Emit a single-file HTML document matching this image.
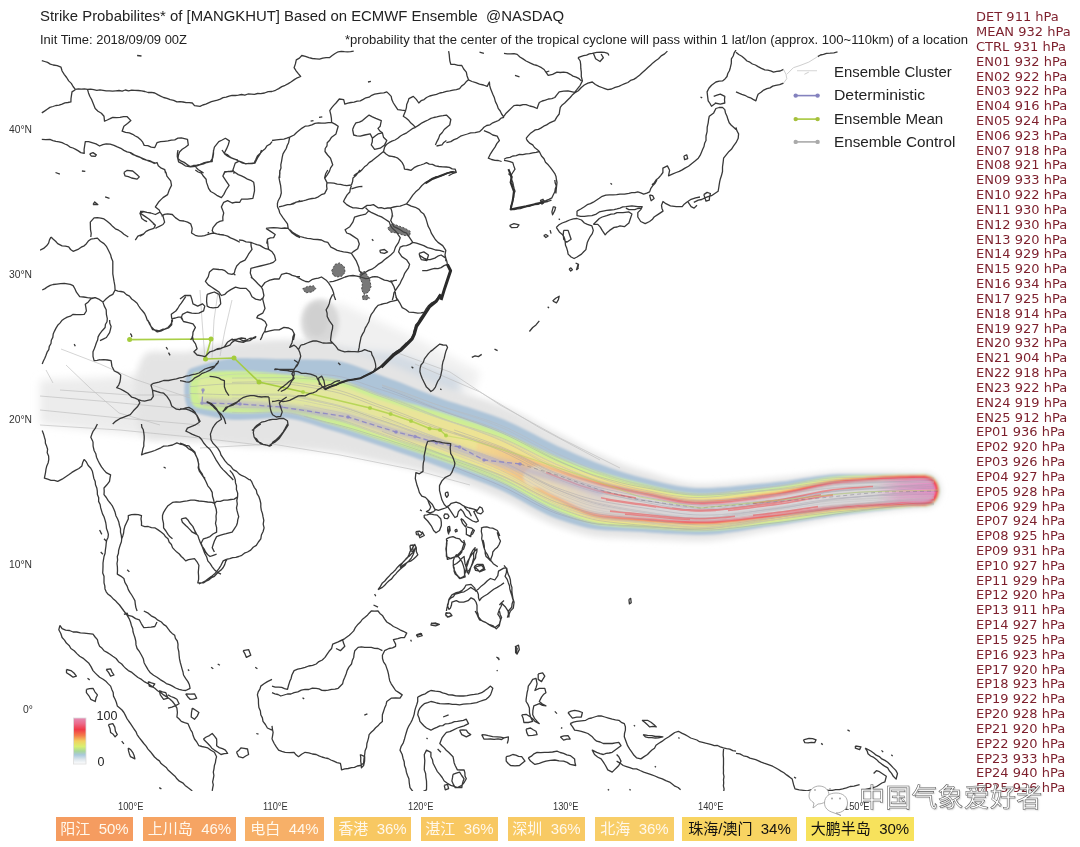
<!DOCTYPE html>
<html><head><meta charset="utf-8">
<style>
html,body{margin:0;padding:0;background:#fff;}
body{width:1080px;height:847px;position:relative;overflow:hidden;font-family:"Liberation Sans","Noto Sans CJK SC",sans-serif;}
.t{position:absolute;white-space:nowrap;line-height:1;}
#title{left:40px;top:9px;font-size:14.9px;color:#222;}
#init{left:40px;top:33.5px;font-size:12.5px;color:#222;transform:scaleX(1.037);transform-origin:0 0;}
#note{left:345px;top:33.5px;font-size:12.5px;color:#222;transform:scaleX(1.046);transform-origin:0 0;}
#press{position:absolute;left:976px;top:10.2px;font-family:"DejaVu Sans",sans-serif;font-size:12px;color:#7d1f2c;line-height:14.823px;white-space:pre;transform:scaleX(1.085);transform-origin:0 0;}
.lat{position:absolute;font-size:10px;color:#333;transform:scaleX(1.03);transform-origin:0 0;}
.lon{position:absolute;font-size:10px;color:#333;top:800.5px;transform:scaleX(0.93);transform-origin:0 0;}
.leg{position:absolute;left:834px;font-size:14px;color:#222;transform-origin:0 0;white-space:nowrap;}
.box{position:absolute;top:817.3px;height:24.2px;font-family:"Liberation Sans","Noto Sans CJK SC",sans-serif;font-size:15px;line-height:24px;color:#fff8ec;text-align:center;white-space:nowrap;}
svg{position:absolute;left:0;top:0;}
</style></head><body>
<svg id="map" width="1080" height="847" viewBox="0 0 1080 847">
<!--haze--><defs><filter id="b4" x="-50%" y="-50%" width="200%" height="200%"><feGaussianBlur stdDeviation="4"/></filter><filter id="b2" x="-20%" y="-50%" width="140%" height="200%"><feGaussianBlur stdDeviation="2"/></filter></defs><g filter="url(#b4)"><path d="M40,380 L100,378 L150,374 L200,366 L200,440 L150,436 L90,430 L40,424Z" fill="#ececec"/><path d="M305,305 L340,303 L420,340 L480,372 L474,392 L400,382 L330,366 L305,345Z" fill="#f0f0f0"/><path d="M205,352 L300,346 L400,354 L460,378 L460,398 L380,392 L280,385 L205,385Z" fill="#d2dae3"/></g><g filter="url(#b2)"><ellipse cx="320" cy="322" rx="19" ry="23" fill="#d8d8d8"/><ellipse cx="317" cy="320" rx="11" ry="16" fill="#d0d0d0"/></g><!--/haze-->
<!--band--><defs><filter id="bl" x="-5%" y="-20%" width="110%" height="140%"><feGaussianBlur stdDeviation="1.3"/></filter><filter id="bl2" x="-5%" y="-20%" width="110%" height="140%"><feGaussianBlur stdDeviation="3"/></filter><linearGradient id="yel" x1="190" y1="0" x2="940" y2="0" gradientUnits="userSpaceOnUse"><stop offset="0" stop-color="#dcec9e"/><stop offset="0.2" stop-color="#e4e6a0"/><stop offset="0.4" stop-color="#eee292"/><stop offset="1" stop-color="#efe08a"/></linearGradient><linearGradient id="rim" x1="480" y1="0" x2="940" y2="0" gradientUnits="userSpaceOnUse"><stop offset="0" stop-color="#f2d890"/><stop offset="0.15" stop-color="#f2b880"/><stop offset="0.3" stop-color="#ef7a6a"/><stop offset="0.45" stop-color="#ee5060"/><stop offset="1" stop-color="#f0384c"/></linearGradient><linearGradient id="core" x1="540" y1="0" x2="940" y2="0" gradientUnits="userSpaceOnUse"><stop offset="0" stop-color="#e8dab4"/><stop offset="0.15" stop-color="#ddd3cc"/><stop offset="0.3" stop-color="#d8d5d8"/><stop offset="0.84" stop-color="#d8d6d8"/><stop offset="0.9" stop-color="#e2a6cc"/><stop offset="1" stop-color="#ea88c6"/></linearGradient></defs><g filter="url(#bl)"><path d="M150.0,352.0 C153.3,351.0 158.0,352.0 162.0,352.0 C166.0,352.0 170.0,352.0 174.0,352.0 C178.0,352.0 182.0,352.3 186.0,352.0 C190.0,351.7 194.0,351.1 198.0,350.3 C202.0,349.5 206.0,348.1 210.0,347.1 C214.0,346.1 218.0,345.2 222.0,344.5 C226.0,343.7 230.0,343.1 234.0,342.6 C238.0,342.1 242.0,341.9 246.0,341.5 C250.0,341.2 254.0,341.0 258.0,340.7 C262.0,340.5 266.0,340.3 270.0,340.2 C274.0,340.1 278.0,340.0 282.0,340.0 C286.0,340.1 290.0,340.2 294.0,340.5 C298.0,340.8 302.0,341.2 306.0,341.6 C310.0,342.1 314.0,342.6 318.0,343.2 C322.0,343.8 326.0,344.3 330.0,345.0 C334.0,345.7 338.0,346.5 342.0,347.5 C346.0,348.5 350.0,349.7 354.0,351.0 C358.0,352.2 362.0,353.6 366.0,355.0 C370.0,356.4 374.0,357.9 378.0,359.3 C382.0,360.8 386.0,362.2 390.0,363.7 C394.0,365.3 398.0,367.1 402.0,368.8 C406.0,370.5 410.0,372.3 414.0,374.1 C418.0,375.9 422.0,377.7 426.0,379.4 C430.0,381.1 434.0,382.7 438.0,384.2 C442.0,385.8 446.0,387.2 450.0,388.5 C454.0,389.8 458.0,391.1 462.0,392.3 C466.0,393.6 470.0,394.8 474.0,396.0 C478.0,397.3 482.0,398.5 486.0,399.9 C490.0,401.2 494.0,402.6 498.0,404.2 C502.0,405.8 506.0,407.5 510.0,409.3 C514.0,411.1 518.0,413.1 522.0,415.1 C526.0,417.1 530.0,419.3 534.0,421.4 C538.0,423.5 542.0,425.6 546.0,427.7 C550.0,429.9 554.0,431.9 558.0,434.0 C562.0,436.1 566.0,438.1 570.0,440.1 C574.0,442.2 578.0,444.4 582.0,446.4 C586.0,448.4 590.0,450.5 594.0,452.3 C598.0,454.2 602.0,455.9 606.0,457.5 C610.0,459.2 614.0,460.9 618.0,462.4 C622.0,464.0 626.0,465.5 630.0,466.8 C634.0,468.2 638.0,469.3 642.0,470.6 C646.0,471.8 650.0,473.1 654.0,474.3 C658.0,475.6 662.0,476.9 666.0,478.0 C670.0,479.2 674.0,480.3 678.0,481.2 C682.0,482.1 686.0,482.9 690.0,483.4 C694.0,483.8 698.0,483.9 702.0,484.0 C706.0,484.0 710.0,483.8 714.0,483.7 C718.0,483.5 722.0,483.3 726.0,483.0 C730.0,482.7 734.0,482.4 738.0,482.1 C742.0,481.7 746.0,481.3 750.0,481.0 C754.0,480.6 758.0,480.2 762.0,479.9 C766.0,479.5 770.0,479.2 774.0,478.8 C778.0,478.4 782.0,478.0 786.0,477.6 C790.0,477.1 794.0,476.6 798.0,476.1 C802.0,475.6 806.0,475.0 810.0,474.5 C814.0,474.0 818.0,473.6 822.0,473.2 C826.0,472.8 830.0,472.5 834.0,472.3 C838.0,472.1 842.0,472.0 846.0,472.0 C850.0,472.0 854.0,472.0 858.0,472.0 C862.0,472.0 866.0,472.0 870.0,472.0 C874.0,472.1 878.0,472.1 882.0,472.1 C886.0,472.2 890.0,472.2 894.0,472.3 C898.0,472.4 902.0,472.5 906.0,472.6 C910.0,472.7 914.8,472.9 918.0,473.0 C921.2,473.1 922.7,472.6 925.2,473.0 C927.8,473.4 930.9,473.9 933.1,475.3 C935.4,476.8 937.6,479.2 938.9,481.8 C940.2,484.3 941.0,487.6 941.0,490.5 C941.0,493.4 940.2,496.7 938.9,499.2 C937.6,501.8 935.4,504.2 933.1,505.7 C930.9,507.1 927.8,507.6 925.2,508.0 C922.7,508.4 921.2,507.8 918.0,508.0 C914.8,508.2 910.0,508.7 906.0,509.1 C902.0,509.5 898.0,510.0 894.0,510.4 C890.0,510.9 886.0,511.3 882.0,511.8 C878.0,512.3 874.0,512.8 870.0,513.4 C866.0,513.9 862.0,514.4 858.0,515.0 C854.0,515.6 850.0,516.1 846.0,516.7 C842.0,517.3 838.0,517.9 834.0,518.6 C830.0,519.2 826.0,520.0 822.0,520.7 C818.0,521.4 814.0,522.2 810.0,522.9 C806.0,523.7 802.0,524.5 798.0,525.3 C794.0,526.0 790.0,526.8 786.0,527.5 C782.0,528.3 778.0,529.0 774.0,529.7 C770.0,530.4 766.0,531.0 762.0,531.8 C758.0,532.6 754.0,533.4 750.0,534.2 C746.0,535.0 742.0,535.9 738.0,536.6 C734.0,537.4 730.0,538.1 726.0,538.7 C722.0,539.3 718.0,539.9 714.0,540.3 C710.0,540.7 706.0,540.9 702.0,541.0 C698.0,541.1 694.0,541.0 690.0,540.9 C686.0,540.8 682.0,540.7 678.0,540.6 C674.0,540.5 670.0,540.3 666.0,540.1 C662.0,540.0 658.0,539.8 654.0,539.6 C650.0,539.4 646.0,539.2 642.0,539.1 C638.0,538.9 634.0,538.8 630.0,538.6 C626.0,538.5 622.0,538.3 618.0,538.1 C614.0,537.9 610.0,537.8 606.0,537.5 C602.0,537.1 598.0,536.9 594.0,536.3 C590.0,535.7 586.0,534.7 582.0,533.7 C578.0,532.7 574.0,531.5 570.0,530.2 C566.0,529.0 562.0,527.8 558.0,526.3 C554.0,524.9 550.0,523.2 546.0,521.4 C542.0,519.6 538.0,517.4 534.0,515.4 C530.0,513.3 526.0,511.0 522.0,508.9 C518.0,506.7 514.0,504.5 510.0,502.6 C506.0,500.6 502.0,498.9 498.0,497.2 C494.0,495.4 490.0,493.9 486.0,492.2 C482.0,490.6 478.0,489.1 474.0,487.5 C470.0,486.0 466.0,484.5 462.0,483.1 C458.0,481.7 454.0,480.3 450.0,479.0 C446.0,477.8 442.0,476.6 438.0,475.4 C434.0,474.3 430.0,473.3 426.0,472.3 C422.0,471.3 418.0,470.3 414.0,469.4 C410.0,468.5 406.0,467.6 402.0,466.7 C398.0,465.8 394.0,465.0 390.0,464.1 C386.0,463.3 382.0,462.4 378.0,461.6 C374.0,460.7 370.0,459.8 366.0,458.9 C362.0,458.0 358.0,457.0 354.0,456.2 C350.0,455.3 346.0,454.5 342.0,453.8 C338.0,453.1 334.0,452.5 330.0,452.0 C326.0,451.5 322.0,451.1 318.0,450.7 C314.0,450.4 310.0,450.0 306.0,449.7 C302.0,449.4 298.0,449.1 294.0,448.8 C290.0,448.6 286.0,448.3 282.0,448.1 C278.0,447.8 274.0,447.6 270.0,447.4 C266.0,447.3 262.0,447.1 258.0,446.9 C254.0,446.8 250.0,446.6 246.0,446.4 C242.0,446.1 238.0,445.9 234.0,445.5 C230.0,445.2 226.0,444.8 222.0,444.3 C218.0,443.9 214.0,443.3 210.0,442.8 C206.0,442.2 202.0,441.4 198.0,441.0 C194.0,440.5 190.0,440.2 186.0,440.0 C182.0,439.8 178.0,440.0 174.0,440.0 C170.0,440.0 166.0,440.0 162.0,440.0 C158.0,440.0 153.3,441.0 150.0,440.0 C146.7,439.0 144.5,437.8 142.3,434.1 C140.1,430.4 137.9,424.4 136.7,418.0 C135.4,411.6 134.6,403.3 134.6,396.0 C134.6,388.7 135.4,380.4 136.7,374.0 C137.9,367.6 140.1,361.6 142.3,357.9 C144.5,354.2 146.7,353.0 150.0,352.0Z" fill="#e4e4e4" filter="url(#bl2)"/><path d="M192.0,368.0 C194.6,366.9 200.0,365.4 204.0,364.2 C208.0,363.0 212.0,361.9 216.0,361.0 C220.0,360.1 224.0,359.3 228.0,358.8 C232.0,358.3 236.0,358.1 240.0,358.0 C244.0,357.9 248.0,358.1 252.0,358.2 C256.0,358.2 260.0,358.4 264.0,358.5 C268.0,358.6 272.0,358.8 276.0,358.9 C280.0,359.0 284.0,359.1 288.0,359.1 C292.0,359.2 296.0,359.3 300.0,359.3 C304.0,359.4 308.0,359.4 312.0,359.5 C316.0,359.6 320.0,359.6 324.0,359.8 C328.0,360.0 332.0,360.0 336.0,360.6 C340.0,361.1 344.0,362.2 348.0,363.3 C352.0,364.5 356.0,366.0 360.0,367.5 C364.0,369.0 368.0,370.6 372.0,372.1 C376.0,373.6 380.0,374.9 384.0,376.4 C388.0,377.8 392.0,379.3 396.0,380.8 C400.0,382.3 404.0,383.9 408.0,385.5 C412.0,387.1 416.0,388.8 420.0,390.4 C424.0,391.9 428.0,393.5 432.0,395.0 C436.0,396.6 440.0,398.0 444.0,399.4 C448.0,400.8 452.0,402.1 456.0,403.3 C460.0,404.6 464.0,405.8 468.0,407.1 C472.0,408.4 476.0,409.6 480.0,410.9 C484.0,412.2 488.0,413.5 492.0,415.0 C496.0,416.4 500.0,418.0 504.0,419.6 C508.0,421.3 512.0,423.2 516.0,425.1 C520.0,427.0 524.0,429.0 528.0,431.1 C532.0,433.1 536.0,435.2 540.0,437.2 C544.0,439.3 548.0,441.3 552.0,443.2 C556.0,445.2 560.0,447.0 564.0,448.8 C568.0,450.6 572.0,452.4 576.0,454.2 C580.0,455.9 584.0,457.7 588.0,459.3 C592.0,460.9 596.0,462.5 600.0,464.0 C604.0,465.5 608.0,467.0 612.0,468.4 C616.0,469.8 620.0,471.2 624.0,472.5 C628.0,473.7 632.0,474.9 636.0,476.0 C640.0,477.1 644.0,478.0 648.0,479.0 C652.0,480.0 656.0,481.0 660.0,482.0 C664.0,482.9 668.0,483.9 672.0,484.7 C676.0,485.5 680.0,486.3 684.0,486.8 C688.0,487.4 692.0,487.7 696.0,487.9 C700.0,488.1 704.0,488.0 708.0,487.9 C712.0,487.8 716.0,487.6 720.0,487.3 C724.0,487.1 728.0,486.8 732.0,486.4 C736.0,486.1 740.0,485.7 744.0,485.3 C748.0,484.9 752.0,484.5 756.0,484.1 C760.0,483.7 764.0,483.3 768.0,482.9 C772.0,482.5 776.0,482.1 780.0,481.6 C784.0,481.1 788.0,480.5 792.0,479.9 C796.0,479.3 800.0,478.7 804.0,478.0 C808.0,477.4 812.0,476.8 816.0,476.2 C820.0,475.7 824.0,475.2 828.0,474.8 C832.0,474.5 836.0,474.2 840.0,474.1 C844.0,473.9 848.0,474.0 852.0,474.0 C856.0,474.0 860.0,474.0 864.0,474.0 C868.0,474.0 872.0,474.0 876.0,474.0 C880.0,474.0 884.0,474.0 888.0,474.0 C892.0,474.0 896.0,474.0 900.0,474.0 C904.0,474.0 908.0,474.0 912.0,474.0 C916.0,474.0 921.8,474.0 924.0,474.0 C926.2,474.0 923.7,473.6 925.1,474.0 C926.6,474.4 930.4,474.8 932.6,476.2 C934.7,477.6 936.8,479.9 938.0,482.2 C939.2,484.6 940.0,487.8 940.0,490.5 C940.0,493.2 939.2,496.4 938.0,498.8 C936.8,501.1 934.7,503.4 932.6,504.8 C930.4,506.2 926.6,506.6 925.1,507.0 C923.7,507.4 926.2,506.9 924.0,507.0 C921.8,507.1 916.0,507.2 912.0,507.4 C908.0,507.7 904.0,508.2 900.0,508.6 C896.0,509.0 892.0,509.4 888.0,509.8 C884.0,510.2 880.0,510.7 876.0,511.1 C872.0,511.6 868.0,512.1 864.0,512.5 C860.0,513.0 856.0,513.5 852.0,514.0 C848.0,514.5 844.0,515.0 840.0,515.5 C836.0,516.1 832.0,516.6 828.0,517.2 C824.0,517.8 820.0,518.5 816.0,519.1 C812.0,519.8 808.0,520.4 804.0,521.1 C800.0,521.7 796.0,522.4 792.0,523.0 C788.0,523.6 784.0,524.3 780.0,524.9 C776.0,525.4 772.0,526.0 768.0,526.6 C764.0,527.2 760.0,527.8 756.0,528.5 C752.0,529.1 748.0,529.8 744.0,530.5 C740.0,531.1 736.0,531.8 732.0,532.3 C728.0,532.9 724.0,533.4 720.0,533.9 C716.0,534.3 712.0,534.6 708.0,534.8 C704.0,535.0 700.0,535.0 696.0,535.0 C692.0,534.9 688.0,534.8 684.0,534.6 C680.0,534.5 676.0,534.2 672.0,534.0 C668.0,533.8 664.0,533.5 660.0,533.2 C656.0,533.0 652.0,532.7 648.0,532.4 C644.0,532.2 640.0,532.0 636.0,531.8 C632.0,531.6 628.0,531.5 624.0,531.3 C620.0,531.2 616.0,531.0 612.0,530.8 C608.0,530.6 604.0,530.4 600.0,530.0 C596.0,529.6 592.0,529.0 588.0,528.2 C584.0,527.4 580.0,526.2 576.0,525.1 C572.0,523.9 568.0,522.7 564.0,521.3 C560.0,520.0 556.0,518.7 552.0,517.0 C548.0,515.3 544.0,513.3 540.0,511.3 C536.0,509.2 532.0,506.9 528.0,504.7 C524.0,502.5 520.0,500.1 516.0,498.0 C512.0,495.8 508.0,493.7 504.0,491.8 C500.0,489.9 496.0,488.3 492.0,486.6 C488.0,484.9 484.0,483.4 480.0,481.8 C476.0,480.2 472.0,478.7 468.0,477.2 C464.0,475.7 460.0,474.3 456.0,472.8 C452.0,471.4 448.0,469.9 444.0,468.5 C440.0,467.0 436.0,465.5 432.0,464.1 C428.0,462.6 424.0,461.2 420.0,459.8 C416.0,458.4 412.0,457.0 408.0,455.6 C404.0,454.2 400.0,452.8 396.0,451.4 C392.0,450.0 388.0,448.7 384.0,447.3 C380.0,446.0 376.0,444.7 372.0,443.3 C368.0,442.0 364.0,440.6 360.0,439.3 C356.0,438.0 352.0,436.7 348.0,435.4 C344.0,434.1 340.0,432.9 336.0,431.7 C332.0,430.5 328.0,429.5 324.0,428.2 C320.0,427.0 316.0,425.6 312.0,424.3 C308.0,423.1 304.0,421.7 300.0,420.8 C296.0,419.8 292.0,418.9 288.0,418.4 C284.0,418.0 280.0,418.0 276.0,418.1 C272.0,418.1 268.0,418.5 264.0,418.7 C260.0,419.0 256.0,419.4 252.0,419.6 C248.0,419.8 244.0,420.0 240.0,420.0 C236.0,420.0 232.0,419.8 228.0,419.4 C224.0,419.0 220.0,418.4 216.0,417.7 C212.0,417.0 208.0,416.1 204.0,415.2 C200.0,414.2 194.6,413.0 192.0,412.0 C189.4,411.0 189.3,410.9 188.2,409.1 C187.0,407.2 186.0,404.2 185.3,401.0 C184.7,397.8 184.3,393.7 184.3,390.0 C184.3,386.3 184.7,382.2 185.3,379.0 C186.0,375.8 187.0,372.8 188.2,370.9 C189.3,369.1 189.4,369.1 192.0,368.0Z" fill="#adc4d8"/><path d="M196.0,372.6 C198.5,372.1 204.0,372.0 208.0,371.7 C212.0,371.5 216.0,371.4 220.0,371.2 C224.0,371.1 228.0,371.1 232.0,371.0 C236.0,371.0 240.0,370.9 244.0,371.1 C248.0,371.2 252.0,371.4 256.0,371.7 C260.0,372.0 264.0,372.5 268.0,372.8 C272.0,373.2 276.0,373.6 280.0,373.9 C284.0,374.2 288.0,374.5 292.0,374.8 C296.0,375.0 300.0,375.3 304.0,375.6 C308.0,375.8 312.0,376.1 316.0,376.5 C320.0,376.9 324.0,377.1 328.0,377.7 C332.0,378.3 336.0,379.0 340.0,380.1 C344.0,381.2 348.0,382.7 352.0,384.2 C356.0,385.7 360.0,387.5 364.0,389.1 C368.0,390.6 372.0,392.3 376.0,393.7 C380.0,395.1 384.0,396.2 388.0,397.4 C392.0,398.6 396.0,399.7 400.0,400.8 C404.0,401.9 408.0,403.0 412.0,404.1 C416.0,405.2 420.0,406.2 424.0,407.4 C428.0,408.5 432.0,409.6 436.0,410.8 C440.0,412.0 444.0,413.2 448.0,414.5 C452.0,415.7 456.0,417.0 460.0,418.2 C464.0,419.5 468.0,420.8 472.0,422.1 C476.0,423.5 480.0,424.8 484.0,426.2 C488.0,427.6 492.0,429.0 496.0,430.5 C500.0,432.0 504.0,433.5 508.0,435.2 C512.0,436.8 516.0,438.6 520.0,440.4 C524.0,442.2 528.0,444.0 532.0,445.9 C536.0,447.7 540.0,449.5 544.0,451.3 C548.0,453.1 552.0,454.8 556.0,456.4 C560.0,458.0 564.0,459.5 568.0,461.0 C572.0,462.5 576.0,464.0 580.0,465.4 C584.0,466.8 588.0,468.2 592.0,469.5 C596.0,470.8 600.0,472.0 604.0,473.2 C608.0,474.4 612.0,475.6 616.0,476.8 C620.0,477.9 624.0,479.1 628.0,480.1 C632.0,481.1 636.0,482.0 640.0,483.0 C644.0,484.0 648.0,484.9 652.0,485.9 C656.0,486.8 660.0,487.9 664.0,488.8 C668.0,489.7 672.0,490.7 676.0,491.4 C680.0,492.2 684.0,492.9 688.0,493.3 C692.0,493.7 696.0,493.9 700.0,494.0 C704.0,494.1 708.0,493.9 712.0,493.7 C716.0,493.5 720.0,493.3 724.0,492.9 C728.0,492.6 732.0,492.2 736.0,491.8 C740.0,491.4 744.0,490.9 748.0,490.4 C752.0,489.9 756.0,489.4 760.0,488.9 C764.0,488.5 768.0,488.0 772.0,487.5 C776.0,487.0 780.0,486.4 784.0,485.7 C788.0,485.1 792.0,484.3 796.0,483.5 C800.0,482.7 804.0,481.8 808.0,481.0 C812.0,480.3 816.0,479.4 820.0,478.8 C824.0,478.1 828.0,477.4 832.0,477.0 C836.0,476.5 840.0,476.2 844.0,476.0 C848.0,475.8 852.0,475.7 856.0,475.6 C860.0,475.5 864.0,475.3 868.0,475.2 C872.0,475.1 876.0,475.0 880.0,474.9 C884.0,474.8 888.0,474.8 892.0,474.7 C896.0,474.6 900.0,474.6 904.0,474.6 C908.0,474.5 912.5,474.5 916.0,474.5 C919.5,474.5 922.4,474.1 925.1,474.5 C927.8,474.9 930.2,475.3 932.3,476.6 C934.4,478.0 936.4,480.2 937.6,482.5 C938.8,484.8 939.5,487.8 939.5,490.5 C939.5,493.2 938.8,496.2 937.6,498.5 C936.4,500.8 934.4,503.0 932.3,504.4 C930.2,505.7 927.8,506.1 925.1,506.5 C922.4,506.9 919.5,506.4 916.0,506.6 C912.5,506.7 908.0,507.1 904.0,507.4 C900.0,507.7 896.0,508.0 892.0,508.3 C888.0,508.6 884.0,509.0 880.0,509.3 C876.0,509.7 872.0,510.1 868.0,510.5 C864.0,510.9 860.0,511.3 856.0,511.7 C852.0,512.1 848.0,512.5 844.0,513.0 C840.0,513.5 836.0,514.0 832.0,514.5 C828.0,515.0 824.0,515.6 820.0,516.3 C816.0,516.9 812.0,517.5 808.0,518.2 C804.0,518.8 800.0,519.4 796.0,520.1 C792.0,520.7 788.0,521.3 784.0,521.9 C780.0,522.5 776.0,523.0 772.0,523.5 C768.0,524.0 764.0,524.5 760.0,525.1 C756.0,525.6 752.0,526.2 748.0,526.7 C744.0,527.3 740.0,527.8 736.0,528.3 C732.0,528.8 728.0,529.3 724.0,529.7 C720.0,530.1 716.0,530.4 712.0,530.6 C708.0,530.9 704.0,531.0 700.0,531.0 C696.0,531.0 692.0,530.9 688.0,530.8 C684.0,530.7 680.0,530.5 676.0,530.3 C672.0,530.1 668.0,529.8 664.0,529.6 C660.0,529.3 656.0,529.0 652.0,528.8 C648.0,528.5 644.0,528.2 640.0,528.0 C636.0,527.8 632.0,527.5 628.0,527.3 C624.0,527.1 620.0,526.8 616.0,526.5 C612.0,526.2 608.0,526.0 604.0,525.5 C600.0,525.0 596.0,524.5 592.0,523.5 C588.0,522.6 584.0,521.2 580.0,519.8 C576.0,518.4 572.0,516.8 568.0,515.2 C564.0,513.6 560.0,512.1 556.0,510.4 C552.0,508.6 548.0,506.7 544.0,504.7 C540.0,502.7 536.0,500.5 532.0,498.4 C528.0,496.2 524.0,493.9 520.0,491.8 C516.0,489.7 512.0,487.6 508.0,485.6 C504.0,483.7 500.0,482.0 496.0,480.3 C492.0,478.7 488.0,477.1 484.0,475.6 C480.0,474.1 476.0,472.6 472.0,471.2 C468.0,469.7 464.0,468.3 460.0,466.9 C456.0,465.5 452.0,464.2 448.0,462.8 C444.0,461.4 440.0,460.0 436.0,458.6 C432.0,457.2 428.0,455.9 424.0,454.5 C420.0,453.2 416.0,451.8 412.0,450.5 C408.0,449.2 404.0,447.8 400.0,446.5 C396.0,445.2 392.0,443.9 388.0,442.6 C384.0,441.3 380.0,440.0 376.0,438.7 C372.0,437.4 368.0,436.0 364.0,434.7 C360.0,433.4 356.0,432.0 352.0,430.7 C348.0,429.4 344.0,428.1 340.0,426.9 C336.0,425.7 332.0,424.6 328.0,423.4 C324.0,422.2 320.0,420.9 316.0,419.6 C312.0,418.4 308.0,417.0 304.0,415.9 C300.0,414.8 296.0,413.7 292.0,413.0 C288.0,412.4 284.0,412.1 280.0,412.0 C276.0,411.9 272.0,412.1 268.0,412.2 C264.0,412.3 260.0,412.5 256.0,412.7 C252.0,412.8 248.0,413.0 244.0,413.0 C240.0,413.0 236.0,413.0 232.0,412.7 C228.0,412.5 224.0,412.1 220.0,411.5 C216.0,411.0 212.0,410.3 208.0,409.5 C204.0,408.7 198.5,407.7 196.0,406.9 C193.5,406.1 193.9,406.1 193.0,404.6 C192.1,403.2 191.3,400.8 190.8,398.4 C190.3,395.9 190.0,392.6 190.0,389.8 C190.0,386.9 190.3,383.7 190.8,381.2 C191.3,378.7 192.1,376.3 193.0,374.9 C193.9,373.5 193.5,373.1 196.0,372.6Z" fill="#cdee94"/><path d="M202.0,378.5 C204.3,378.2 210.0,378.2 214.0,378.2 C218.0,378.1 222.0,378.1 226.0,378.0 C230.0,378.0 234.0,378.0 238.0,378.0 C242.0,378.1 246.0,378.1 250.0,378.3 C254.0,378.5 258.0,378.9 262.0,379.3 C266.0,379.7 270.0,380.1 274.0,380.4 C278.0,380.8 282.0,381.1 286.0,381.3 C290.0,381.6 294.0,381.7 298.0,381.9 C302.0,382.1 306.0,382.3 310.0,382.5 C314.0,382.7 318.0,382.9 322.0,383.3 C326.0,383.6 330.0,383.8 334.0,384.5 C338.0,385.3 342.0,386.3 346.0,387.5 C350.0,388.8 354.0,390.4 358.0,391.9 C362.0,393.3 366.0,395.1 370.0,396.5 C374.0,398.0 378.0,399.3 382.0,400.6 C386.0,401.9 390.0,403.0 394.0,404.2 C398.0,405.4 402.0,406.6 406.0,407.8 C410.0,409.0 414.0,410.1 418.0,411.3 C422.0,412.5 426.0,413.7 430.0,414.9 C434.0,416.1 438.0,417.4 442.0,418.6 C446.0,419.9 450.0,421.1 454.0,422.4 C458.0,423.7 462.0,424.9 466.0,426.2 C470.0,427.5 474.0,428.8 478.0,430.2 C482.0,431.5 486.0,432.9 490.0,434.3 C494.0,435.8 498.0,437.2 502.0,438.8 C506.0,440.3 510.0,442.0 514.0,443.8 C518.0,445.5 522.0,447.4 526.0,449.2 C530.0,451.0 534.0,453.0 538.0,454.8 C542.0,456.6 546.0,458.4 550.0,460.0 C554.0,461.7 558.0,463.2 562.0,464.7 C566.0,466.2 570.0,467.6 574.0,468.9 C578.0,470.3 582.0,471.6 586.0,472.8 C590.0,474.1 594.0,475.3 598.0,476.4 C602.0,477.6 606.0,478.7 610.0,479.8 C614.0,480.9 618.0,481.9 622.0,482.9 C626.0,483.9 630.0,484.8 634.0,485.7 C638.0,486.6 642.0,487.4 646.0,488.3 C650.0,489.1 654.0,490.1 658.0,490.9 C662.0,491.8 666.0,492.7 670.0,493.5 C674.0,494.3 678.0,495.1 682.0,495.6 C686.0,496.2 690.0,496.6 694.0,496.8 C698.0,497.0 702.0,497.0 706.0,496.9 C710.0,496.9 714.0,496.6 718.0,496.4 C722.0,496.1 726.0,495.8 730.0,495.4 C734.0,495.0 738.0,494.6 742.0,494.2 C746.0,493.7 750.0,493.2 754.0,492.7 C758.0,492.2 762.0,491.7 766.0,491.2 C770.0,490.7 774.0,490.3 778.0,489.7 C782.0,489.1 786.0,488.3 790.0,487.6 C794.0,486.8 798.0,485.9 802.0,485.1 C806.0,484.2 810.0,483.3 814.0,482.5 C818.0,481.7 822.0,480.9 826.0,480.2 C830.0,479.6 834.0,479.0 838.0,478.5 C842.0,478.1 846.0,477.9 850.0,477.6 C854.0,477.3 858.0,477.1 862.0,476.9 C866.0,476.6 870.0,476.4 874.0,476.2 C878.0,476.0 882.0,475.8 886.0,475.7 C890.0,475.5 894.0,475.4 898.0,475.3 C902.0,475.2 906.0,475.1 910.0,475.0 C914.0,475.0 919.5,475.0 922.0,475.0 C924.5,475.0 923.4,474.7 925.0,475.0 C926.7,475.3 930.0,475.8 932.0,477.1 C934.0,478.4 936.0,480.5 937.1,482.8 C938.3,485.0 939.0,487.9 939.0,490.5 C939.0,493.1 938.3,496.0 937.1,498.2 C936.0,500.5 934.0,502.6 932.0,503.9 C930.0,505.2 926.7,505.7 925.0,506.0 C923.4,506.3 924.5,506.0 922.0,506.0 C919.5,506.0 914.0,506.1 910.0,506.3 C906.0,506.4 902.0,506.6 898.0,506.8 C894.0,507.1 890.0,507.3 886.0,507.6 C882.0,507.8 878.0,508.1 874.0,508.4 C870.0,508.7 866.0,509.1 862.0,509.4 C858.0,509.7 854.0,510.1 850.0,510.5 C846.0,510.8 842.0,511.2 838.0,511.6 C834.0,512.0 830.0,512.5 826.0,513.1 C822.0,513.6 818.0,514.2 814.0,514.8 C810.0,515.4 806.0,516.0 802.0,516.6 C798.0,517.3 794.0,517.9 790.0,518.5 C786.0,519.1 782.0,519.7 778.0,520.2 C774.0,520.8 770.0,521.2 766.0,521.8 C762.0,522.3 758.0,522.9 754.0,523.5 C750.0,524.1 746.0,524.7 742.0,525.3 C738.0,525.8 734.0,526.4 730.0,526.9 C726.0,527.4 722.0,527.8 718.0,528.2 C714.0,528.5 710.0,528.8 706.0,528.9 C702.0,529.0 698.0,529.0 694.0,528.9 C690.0,528.8 686.0,528.6 682.0,528.4 C678.0,528.2 674.0,527.9 670.0,527.5 C666.0,527.2 662.0,526.8 658.0,526.5 C654.0,526.1 650.0,525.8 646.0,525.5 C642.0,525.1 638.0,524.9 634.0,524.6 C630.0,524.3 626.0,524.2 622.0,523.9 C618.0,523.6 614.0,523.4 610.0,523.0 C606.0,522.7 602.0,522.5 598.0,521.7 C594.0,520.9 590.0,519.8 586.0,518.4 C582.0,517.0 578.0,515.1 574.0,513.4 C570.0,511.6 566.0,509.7 562.0,507.9 C558.0,506.0 554.0,504.3 550.0,502.3 C546.0,500.4 542.0,498.2 538.0,496.1 C534.0,493.9 530.0,491.6 526.0,489.4 C522.0,487.2 518.0,485.0 514.0,482.9 C510.0,480.8 506.0,478.8 502.0,476.9 C498.0,475.0 494.0,473.3 490.0,471.6 C486.0,469.8 482.0,468.1 478.0,466.4 C474.0,464.7 470.0,463.1 466.0,461.5 C462.0,459.9 458.0,458.4 454.0,456.9 C450.0,455.4 446.0,454.0 442.0,452.7 C438.0,451.3 434.0,450.1 430.0,448.9 C426.0,447.7 422.0,446.6 418.0,445.6 C414.0,444.5 410.0,443.5 406.0,442.4 C402.0,441.4 398.0,440.3 394.0,439.2 C390.0,438.1 386.0,436.9 382.0,435.6 C378.0,434.3 374.0,432.9 370.0,431.4 C366.0,429.9 362.0,428.1 358.0,426.5 C354.0,424.8 350.0,423.1 346.0,421.5 C342.0,420.0 338.0,418.5 334.0,417.2 C330.0,415.9 326.0,414.8 322.0,413.6 C318.0,412.4 314.0,411.1 310.0,410.0 C306.0,408.9 302.0,407.8 298.0,407.0 C294.0,406.2 290.0,405.5 286.0,405.2 C282.0,404.9 278.0,405.0 274.0,405.1 C270.0,405.1 266.0,405.3 262.0,405.4 C258.0,405.6 254.0,405.8 250.0,405.9 C246.0,405.9 242.0,406.1 238.0,406.0 C234.0,405.9 230.0,405.7 226.0,405.4 C222.0,405.0 218.0,404.5 214.0,404.0 C210.0,403.4 204.3,402.6 202.0,402.0 C199.7,401.4 200.5,401.4 199.9,400.4 C199.4,399.4 198.8,397.8 198.4,396.1 C198.1,394.4 197.9,392.2 197.9,390.2 C197.9,388.3 198.1,386.1 198.4,384.4 C198.8,382.7 199.4,381.0 199.9,380.1 C200.5,379.1 199.7,378.8 202.0,378.5Z" fill="url(#yel)"/><path d="M480.0,440.3 C482.3,440.7 488.0,442.9 492.0,444.3 C496.0,445.6 500.0,447.0 504.0,448.4 C508.0,449.9 512.0,451.4 516.0,453.0 C520.0,454.5 524.0,456.2 528.0,457.8 C532.0,459.4 536.0,461.0 540.0,462.6 C544.0,464.2 548.0,465.7 552.0,467.2 C556.0,468.6 560.0,470.0 564.0,471.3 C568.0,472.7 572.0,473.9 576.0,475.2 C580.0,476.4 584.0,477.6 588.0,478.7 C592.0,479.9 596.0,481.0 600.0,482.0 C604.0,483.0 608.0,484.0 612.0,485.0 C616.0,485.9 620.0,486.8 624.0,487.7 C628.0,488.6 632.0,489.4 636.0,490.2 C640.0,491.0 644.0,491.8 648.0,492.6 C652.0,493.5 656.0,494.4 660.0,495.3 C664.0,496.2 668.0,497.1 672.0,497.8 C676.0,498.6 680.0,499.3 684.0,499.9 C688.0,500.4 692.0,500.8 696.0,500.9 C700.0,501.1 704.0,501.0 708.0,500.8 C712.0,500.7 716.0,500.4 720.0,500.1 C724.0,499.8 728.0,499.4 732.0,498.9 C736.0,498.5 740.0,498.0 744.0,497.4 C748.0,496.9 752.0,496.3 756.0,495.8 C760.0,495.2 764.0,494.6 768.0,494.1 C772.0,493.5 776.0,492.9 780.0,492.2 C784.0,491.5 788.0,490.7 792.0,489.8 C796.0,488.9 800.0,487.9 804.0,487.0 C808.0,486.1 812.0,485.1 816.0,484.2 C820.0,483.3 824.0,482.4 828.0,481.7 C832.0,481.0 836.0,480.4 840.0,479.9 C844.0,479.4 848.0,479.2 852.0,478.8 C856.0,478.5 860.0,478.2 864.0,477.9 C868.0,477.6 872.0,477.3 876.0,477.0 C880.0,476.7 884.0,476.5 888.0,476.3 C892.0,476.1 896.0,475.9 900.0,475.8 C904.0,475.7 908.0,475.6 912.0,475.5 C916.0,475.5 921.8,475.5 924.0,475.5 C926.2,475.5 923.7,475.2 925.0,475.5 C926.3,475.8 929.8,476.3 931.8,477.5 C933.7,478.8 935.6,480.8 936.7,483.0 C937.8,485.2 938.5,488.0 938.5,490.5 C938.5,493.0 937.8,495.8 936.7,498.0 C935.6,500.2 933.7,502.2 931.8,503.5 C929.8,504.7 926.3,505.2 925.0,505.5 C923.7,505.8 926.2,505.5 924.0,505.5 C921.8,505.5 916.0,505.5 912.0,505.6 C908.0,505.6 904.0,505.8 900.0,505.9 C896.0,506.0 892.0,506.2 888.0,506.4 C884.0,506.6 880.0,506.8 876.0,507.0 C872.0,507.2 868.0,507.4 864.0,507.7 C860.0,507.9 856.0,508.2 852.0,508.5 C848.0,508.7 844.0,509.0 840.0,509.3 C836.0,509.6 832.0,510.0 828.0,510.5 C824.0,510.9 820.0,511.4 816.0,511.9 C812.0,512.4 808.0,512.9 804.0,513.5 C800.0,514.0 796.0,514.6 792.0,515.1 C788.0,515.6 784.0,516.1 780.0,516.6 C776.0,517.1 772.0,517.5 768.0,517.9 C764.0,518.4 760.0,518.8 756.0,519.3 C752.0,519.8 748.0,520.3 744.0,520.8 C740.0,521.2 736.0,521.7 732.0,522.1 C728.0,522.5 724.0,522.9 720.0,523.2 C716.0,523.5 712.0,523.7 708.0,523.9 C704.0,524.0 700.0,524.0 696.0,524.0 C692.0,523.9 688.0,523.8 684.0,523.7 C680.0,523.5 676.0,523.3 672.0,523.1 C668.0,522.8 664.0,522.6 660.0,522.3 C656.0,522.1 652.0,521.8 648.0,521.5 C644.0,521.3 640.0,521.0 636.0,520.8 C632.0,520.5 628.0,520.3 624.0,520.1 C620.0,519.8 616.0,519.6 612.0,519.2 C608.0,518.9 604.0,518.7 600.0,518.0 C596.0,517.3 592.0,516.3 588.0,514.9 C584.0,513.6 580.0,511.6 576.0,509.8 C572.0,507.9 568.0,505.8 564.0,503.9 C560.0,501.9 556.0,500.2 552.0,498.2 C548.0,496.1 544.0,494.0 540.0,491.8 C536.0,489.6 532.0,487.2 528.0,485.0 C524.0,482.7 520.0,480.4 516.0,478.2 C512.0,476.0 508.0,473.9 504.0,471.9 C500.0,469.9 496.0,468.1 492.0,466.3 C488.0,464.5 482.3,462.1 480.0,461.0 C477.7,459.8 478.7,460.4 478.2,459.6 C477.7,458.7 477.2,457.3 476.9,455.8 C476.6,454.3 476.4,452.3 476.4,450.6 C476.4,448.9 476.6,446.9 476.9,445.4 C477.2,443.9 477.7,442.5 478.2,441.6 C478.7,440.8 477.7,439.8 480.0,440.3Z" fill="url(#rim)"/><path d="M540.0,466.0 C543.4,466.5 548.0,469.1 552.0,470.6 C556.0,472.0 560.0,473.4 564.0,474.7 C568.0,476.1 572.0,477.3 576.0,478.6 C580.0,479.8 584.0,481.0 588.0,482.1 C592.0,483.3 596.0,484.4 600.0,485.4 C604.0,486.4 608.0,487.4 612.0,488.4 C616.0,489.3 620.0,490.2 624.0,491.1 C628.0,492.0 632.0,492.8 636.0,493.6 C640.0,494.4 644.0,495.2 648.0,496.0 C652.0,496.9 656.0,497.8 660.0,498.7 C664.0,499.6 668.0,500.5 672.0,501.2 C676.0,502.0 680.0,502.7 684.0,503.3 C688.0,503.8 692.0,504.2 696.0,504.3 C700.0,504.5 704.0,504.4 708.0,504.2 C712.0,504.1 716.0,503.8 720.0,503.5 C724.0,503.2 728.0,502.8 732.0,502.3 C736.0,501.9 740.0,501.4 744.0,500.8 C748.0,500.3 752.0,499.7 756.0,499.2 C760.0,498.6 764.0,498.0 768.0,497.5 C772.0,496.9 776.0,496.3 780.0,495.6 C784.0,494.9 788.0,494.1 792.0,493.2 C796.0,492.3 800.0,491.3 804.0,490.4 C808.0,489.5 812.0,488.5 816.0,487.6 C820.0,486.7 824.0,485.8 828.0,485.1 C832.0,484.4 836.0,483.8 840.0,483.3 C844.0,482.8 848.0,482.6 852.0,482.2 C856.0,481.9 860.0,481.6 864.0,481.3 C868.0,481.0 872.0,480.7 876.0,480.4 C880.0,480.1 884.0,479.9 888.0,479.7 C892.0,479.5 896.0,479.3 900.0,479.2 C904.0,479.1 908.0,479.0 912.0,478.9 C916.0,478.9 920.9,478.6 923.9,478.9 C926.9,479.2 928.0,479.5 929.7,480.5 C931.4,481.4 933.0,483.0 933.9,484.7 C934.9,486.4 935.5,488.6 935.5,490.5 C935.5,492.4 934.9,494.6 933.9,496.3 C933.0,498.0 931.4,499.6 929.7,500.5 C928.0,501.5 926.9,501.8 923.9,502.1 C920.9,502.4 916.0,502.1 912.0,502.2 C908.0,502.2 904.0,502.4 900.0,502.5 C896.0,502.6 892.0,502.8 888.0,503.0 C884.0,503.2 880.0,503.4 876.0,503.6 C872.0,503.8 868.0,504.0 864.0,504.3 C860.0,504.5 856.0,504.8 852.0,505.1 C848.0,505.3 844.0,505.6 840.0,505.9 C836.0,506.2 832.0,506.6 828.0,507.1 C824.0,507.5 820.0,508.0 816.0,508.5 C812.0,509.0 808.0,509.5 804.0,510.1 C800.0,510.6 796.0,511.2 792.0,511.7 C788.0,512.2 784.0,512.7 780.0,513.2 C776.0,513.7 772.0,514.1 768.0,514.5 C764.0,515.0 760.0,515.4 756.0,515.9 C752.0,516.4 748.0,516.9 744.0,517.4 C740.0,517.8 736.0,518.3 732.0,518.7 C728.0,519.1 724.0,519.5 720.0,519.8 C716.0,520.1 712.0,520.3 708.0,520.5 C704.0,520.6 700.0,520.6 696.0,520.6 C692.0,520.5 688.0,520.4 684.0,520.3 C680.0,520.1 676.0,519.9 672.0,519.7 C668.0,519.4 664.0,519.2 660.0,518.9 C656.0,518.7 652.0,518.4 648.0,518.1 C644.0,517.9 640.0,517.6 636.0,517.4 C632.0,517.1 628.0,516.9 624.0,516.7 C620.0,516.4 616.0,516.2 612.0,515.8 C608.0,515.5 604.0,515.3 600.0,514.6 C596.0,513.9 592.0,512.9 588.0,511.5 C584.0,510.2 580.0,508.2 576.0,506.4 C572.0,504.5 568.0,502.4 564.0,500.5 C560.0,498.5 556.0,496.8 552.0,494.8 C548.0,492.7 543.4,489.7 540.0,488.4 C536.6,487.0 534.0,487.8 531.6,486.9 C529.2,485.9 526.9,484.4 525.5,482.8 C524.1,481.2 523.2,479.0 523.2,477.2 C523.2,475.3 524.1,473.2 525.5,471.6 C526.9,470.0 529.2,468.4 531.6,467.5 C534.0,466.6 536.6,465.5 540.0,466.0Z" fill="url(#core)"/></g><!--/band-->
<!--tracks--><g fill="none" stroke="#bdbdbd" stroke-width="0.8" opacity="0.8"><polyline points="61.0,349.0 100.0,364.0 134.0,379.0 190.0,398.0"/><polyline points="66.0,365.0 90.0,388.0 119.0,413.0 160.0,425.0"/><polyline points="40.0,396.0 100.0,401.0 153.0,406.0 200.0,410.0"/><polyline points="40.0,410.0 120.0,418.0 200.0,425.0"/><polyline points="40.0,425.0 120.0,430.0 200.0,438.0 260.0,445.0"/><polyline points="46.0,370.0 53.0,383.0"/><polyline points="200.0,448.0 272.0,444.0 340.0,455.0 415.0,470.0 470.0,485.0"/><polyline points="395.0,352.0 450.0,372.0 500.0,405.0 560.0,438.0 620.0,468.0"/><polyline points="415.0,364.0 480.0,392.0 540.0,428.0 600.0,460.0"/><polyline points="205.0,360.0 202.0,320.0 200.0,290.0"/><polyline points="212.0,358.0 214.0,320.0 218.0,292.0"/><polyline points="220.0,356.0 225.0,330.0 232.0,300.0"/><polyline points="60.0,390.0 130.0,395.0 190.0,395.0"/></g><g fill="none" stroke-width="0.7" opacity="0.55"><polyline points="304,376.6 310,377.3 316,378.1 322,379.0 328,379.8 334,380.7 340,382.1 346,383.8 352,385.8 358,388.0 364,390.3 370,392.7 376,394.9 382,397.0 388,399.1 394,401.3 400,403.6 406,405.8 412,408.1 418,410.3 424,412.5 430,414.7 436,416.8 442,418.9 448,420.8 454,422.6 460,424.4 466,426.2 472,428.0 478,429.9 484,431.8 490,433.7 496,435.8 502,438.1 508,440.6 514,443.4 520,446.3 526,449.3 532,452.4 538,455.5 544,458.5 550,461.4 556,464.2 562,466.8 568,469.4 574,471.9 580,474.4 586,476.7 592,479.0 598,481.0 604,482.9 610,484.8 616,486.5 622,488.3 628,489.9 634,491.4 640,492.7 646,494.1 652,495.4 658,496.8 664,498.1 670,499.3 676,500.4 682,501.3 688,502.0 694,502.5 700,502.6 706,502.6 712,502.3 718,502.0 724,501.4 730,500.8 736,500.1 742,499.3 748,498.5 754,497.6 760,496.8 766,495.9 772,495.1 778,494.2 784,493.2 790,492.2 796,491.0 802,489.9 808,488.8 814,487.7 820,486.7 826,485.8 832,485.1 838,484.5 844,484.1 850,483.8 856,483.6 862,483.4 868,483.2 874,483.0 880,482.8 886,482.7 892,482.6 898,482.6 904,482.5 910,482.5 916,482.5 922,482.6 928,482.8 934,483.0" stroke="#a8a8b0"/><polyline points="454,460.7 460,462.7 466,464.8 472,466.9 478,469.0 484,471.2 490,473.5 496,476.0 502,478.5 508,481.4 514,484.5 520,487.8 526,491.2 532,494.6 538,498.0 544,501.2 550,504.2 556,506.9 562,509.2 568,511.5 574,513.6 580,515.7 586,517.5 592,519.1 598,520.4 604,521.3 610,522.1 616,522.8 622,523.4 628,524.0 634,524.6 640,525.1 646,525.7 652,526.2 658,526.8 664,527.4 670,527.9 676,528.3 682,528.6 688,528.9 694,529.0 700,528.9 706,528.6 712,528.2 718,527.6 724,526.8 730,525.8 736,524.8 742,523.8 748,522.7 754,521.6 760,520.5 766,519.4 772,518.4 778,517.5 784,516.5 790,515.5 796,514.5 802,513.5 808,512.4 814,511.5 820,510.5 826,509.7 832,508.9 838,508.2 844,507.6 850,507.1 856,506.5 862,506.1 868,505.6 874,505.2 880,504.8 886,504.4 892,504.1 898,503.7 904,503.4 910,503.1 916,502.8 922,502.9 928,503.0 934,503.1" stroke="#9a9aa8"/><polyline points="382,384.9 388,386.9 394,388.9 400,391.1 406,393.2 412,395.5 418,397.7 424,400.0 430,402.2 436,404.4 442,406.5 448,408.6 454,410.6 460,412.5 466,414.5 472,416.5 478,418.5 484,420.7 490,422.9 496,425.3 502,427.8 508,430.5 514,433.5 520,436.7 526,439.9 532,443.2 538,446.5 544,449.7 550,452.9 556,455.9 562,458.7 568,461.4 574,464.1 580,466.7 586,469.2 592,471.5 598,473.7 604,475.7 610,477.7 616,479.5 622,481.3 628,482.9 634,484.3 640,485.6 646,486.8 652,488.0 658,489.2 664,490.4 670,491.4 676,492.4 682,493.1 688,493.6 694,493.9 700,493.9 706,493.7 712,493.3 718,492.8 724,492.3 730,491.7 736,491.0 742,490.3 748,489.6 754,488.8 760,488.1 766,487.5 772,486.9 778,486.3 784,485.5 790,484.8 796,483.9 802,483.1 808,482.3 814,481.5 820,480.8 826,480.3 832,479.9 838,479.6 844,479.6 850,479.7 856,479.7 862,479.8 868,479.9 874,479.9 880,480.0 886,480.0 892,480.0 898,480.0 904,480.0 910,480.0 916,480.0 922,480.0 928,479.9 934,479.9" stroke="#b8b8b8"/><polyline points="232,378.1 238,378.0 244,378.0 250,377.9 256,377.9 262,377.8 268,377.8 274,377.7 280,377.7 286,377.7 292,377.8 298,378.1 304,378.5 310,378.9 316,379.4 322,379.9 328,380.4 334,381.0 340,382.1 346,383.5 352,385.2 358,387.1 364,389.2 370,391.3 376,393.4 382,395.4 388,397.5 394,399.6 400,401.8 406,404.1 412,406.5 418,408.9 424,411.3 430,413.6 436,416.0 442,418.3 448,420.5 454,422.7 460,424.8 466,427.0 472,429.1 478,431.3 484,433.6 490,435.9 496,438.4 502,441.0 508,443.8 514,446.8 520,449.9 526,453.2 532,456.4 538,459.6 544,462.8 550,465.8 556,468.5 562,471.1 568,473.5 574,475.9 580,478.2 586,480.3 592,482.3 598,484.1 604,485.7 610,487.2 616,488.6 622,489.9 628,491.1 634,492.3 640,493.2 646,494.2 652,495.2 658,496.2 664,497.2 670,498.1 676,498.9 682,499.6 688,500.2 694,500.5 700,500.6 706,500.4 712,500.2 718,499.8 724,499.4 730,498.9 736,498.3 742,497.7 748,497.1 754,496.5 760,495.9 766,495.4 772,494.9 778,494.3 784,493.7 790,493.0 796,492.2 802,491.5 808,490.7 814,489.9 820,489.2 826,488.6 832,488.1 838,487.7 844,487.5 850,487.4 856,487.2 862,487.0 868,486.8 874,486.6 880,486.4 886,486.2 892,485.9 898,485.6 904,485.4 910,485.1 916,484.8 922,484.6 928,484.5 934,484.3" stroke="#a8a8b0"/><polyline points="454,467.0 460,469.3 466,471.7 472,474.0 478,476.4 484,478.8 490,481.2 496,483.7 502,486.4 508,489.2 514,492.3 520,495.5 526,498.8 532,502.1 538,505.2 544,508.2 550,510.9 556,513.3 562,515.2 568,517.1 574,518.9 580,520.5 586,521.9 592,523.1 598,523.9 604,524.3 610,524.7 616,525.0 622,525.3 628,525.5 634,525.8 640,526.1 646,526.4 652,526.8 658,527.3 664,527.8 670,528.2 676,528.7 682,529.1 688,529.5 694,529.8 700,529.9 706,530.0 712,529.8 718,529.5 724,529.0 730,528.4 736,527.7 742,527.0 748,526.2 754,525.4 760,524.6 766,523.9 772,523.2 778,522.5 784,521.7 790,520.9 796,520.1 802,519.2 808,518.3 814,517.3 820,516.4 826,515.5 832,514.6 838,513.7 844,512.9 850,512.1 856,511.3 862,510.6 868,509.8 874,509.0 880,508.2 886,507.4 892,506.7 898,505.9 904,505.2 910,504.5 916,503.8 922,503.6 928,503.4 934,503.3" stroke="#9a9aa8"/><polyline points="382,431.3 388,433.6 394,435.8 400,438.1 406,440.4 412,442.7 418,445.0 424,447.3 430,449.6 436,451.9 442,454.2 448,456.4 454,458.5 460,460.6 466,462.8 472,464.9 478,467.0 484,469.2 490,471.4 496,473.7 502,476.1 508,478.8 514,481.7 520,484.7 526,487.9 532,491.0 538,494.0 544,496.9 550,499.6 556,502.0 562,504.1 568,506.0 574,508.0 580,509.8 586,511.4 592,512.8 598,513.9 604,514.7 610,515.5 616,516.2 622,516.8 628,517.5 634,518.1 640,518.7 646,519.4 652,520.2 658,520.9 664,521.7 670,522.4 676,523.2 682,523.8 688,524.3 694,524.7 700,525.0 706,525.1 712,525.0 718,524.7 724,524.2 730,523.6 736,523.0 742,522.2 748,521.4 754,520.5 760,519.7 766,518.8 772,518.0 778,517.2 784,516.3 790,515.3 796,514.3 802,513.3 808,512.2 814,511.1 820,510.0 826,509.0 832,508.0 838,507.1 844,506.3 850,505.5 856,504.7 862,504.0 868,503.2 874,502.5 880,501.9 886,501.2 892,500.6 898,500.0 904,499.4 910,498.9 916,498.4 922,498.3 928,498.3 934,498.3" stroke="#9a9aa8"/><polyline points="232,394.8 238,394.8 244,394.7 250,394.6 256,394.4 262,394.3 268,394.1 274,394.1 280,394.2 286,394.4 292,395.1 298,396.0 304,397.2 310,398.5 316,400.0 322,401.4 328,402.8 334,404.2 340,405.8 346,407.7 352,409.7 358,411.9 364,414.2 370,416.4 376,418.7 382,420.8 388,422.9 394,425.1 400,427.3 406,429.5 412,431.7 418,433.9 424,436.1 430,438.2 436,440.4 442,442.4 448,444.4 454,446.4 460,448.3 466,450.2 472,452.2 478,454.1 484,456.1 490,458.2 496,460.4 502,462.8 508,465.4 514,468.2 520,471.2 526,474.3 532,477.4 538,480.5 544,483.5 550,486.4 556,489.0 562,491.3 568,493.5 574,495.7 580,497.9 586,499.8 592,501.6 598,503.1 604,504.4 610,505.6 616,506.8 622,507.9 628,508.9 634,509.9 640,510.9 646,511.8 652,512.8 658,513.8 664,514.7 670,515.7 676,516.5 682,517.2 688,517.8 694,518.2 700,518.4 706,518.3 712,518.1 718,517.7 724,517.1 730,516.5 736,515.7 742,514.8 748,513.9 754,512.9 760,512.0 766,511.0 772,510.1 778,509.2 784,508.2 790,507.1 796,506.0 802,504.8 808,503.7 814,502.6 820,501.5 826,500.5 832,499.6 838,498.8 844,498.1 850,497.6 856,497.0 862,496.5 868,496.0 874,495.6 880,495.1 886,494.7 892,494.4 898,494.1 904,493.8 910,493.5 916,493.3 922,493.4 928,493.5 934,493.7" stroke="#a8a8b0"/><polyline points="190,393.5 196,393.7 202,393.9 208,394.1 214,394.3 220,394.5 226,394.6 232,394.8 238,394.9 244,395.0 250,395.1 256,395.1 262,395.0 268,395.0 274,395.1 280,395.2 286,395.6 292,396.3 298,397.3 304,398.4 310,399.7 316,401.1 322,402.5 328,403.8 334,405.1 340,406.6 346,408.4 352,410.3 358,412.3 364,414.4 370,416.5 376,418.6 382,420.5 388,422.5 394,424.5 400,426.5 406,428.6 412,430.6 418,432.7 424,434.8 430,436.8 436,438.8 442,440.8 448,442.8 454,444.7 460,446.6 466,448.6 472,450.5 478,452.5 484,454.6 490,456.8 496,459.1 502,461.6 508,464.3 514,467.2 520,470.4 526,473.7 532,477.0 538,480.3 544,483.4 550,486.4 556,489.2 562,491.7 568,494.1 574,496.4 580,498.7 586,500.7 592,502.6 598,504.2 604,505.6 610,506.8 616,508.0 622,509.1 628,510.1 634,511.1 640,512.0 646,512.8 652,513.7 658,514.6 664,515.4 670,516.2 676,516.9 682,517.4 688,517.8 694,518.1 700,518.1 706,517.9 712,517.5 718,516.9 724,516.2 730,515.4 736,514.5 742,513.5 748,512.5 754,511.5 760,510.4 766,509.4 772,508.5 778,507.6 784,506.6 790,505.6 796,504.5 802,503.4 808,502.4 814,501.4 820,500.5 826,499.6 832,498.8 838,498.2 844,497.7 850,497.3 856,497.0 862,496.6 868,496.3 874,496.0 880,495.7 886,495.5 892,495.3 898,495.1 904,494.9 910,494.7 916,494.6 922,494.7 928,494.9 934,495.0" stroke="#9a9aa8"/><polyline points="232,398.0 238,398.2 244,398.4 250,398.4 256,398.4 262,398.3 268,398.2 274,398.2 280,398.3 286,398.5 292,399.2 298,400.0 304,401.1 310,402.3 316,403.6 322,404.9 328,406.1 334,407.2 340,408.6 346,410.2 352,411.9 358,413.8 364,415.8 370,417.7 376,419.6 382,421.5 388,423.4 394,425.3 400,427.3 406,429.3 412,431.3 418,433.4 424,435.5 430,437.6 436,439.7 442,441.8 448,443.9 454,445.9 460,448.0 466,450.1 472,452.2 478,454.4 484,456.7 490,459.0 496,461.5 502,464.1 508,467.0 514,470.2 520,473.5 526,476.9 532,480.3 538,483.7 544,487.0 550,490.1 556,492.8 562,495.3 568,497.7 574,500.0 580,502.2 586,504.2 592,506.0 598,507.5 604,508.6 610,509.7 616,510.7 622,511.6 628,512.4 634,513.1 640,513.8 646,514.5 652,515.1 658,515.8 664,516.5 670,517.1 676,517.6 682,518.0 688,518.2 694,518.3 700,518.3 706,518.0 712,517.5 718,516.9 724,516.2 730,515.4 736,514.5 742,513.5 748,512.6 754,511.6 760,510.7 766,509.8 772,509.0 778,508.2 784,507.4 790,506.5 796,505.6 802,504.7 808,503.9 814,503.0 820,502.2 826,501.5 832,500.9 838,500.4 844,500.0 850,499.7 856,499.4 862,499.1 868,498.8 874,498.6 880,498.3 886,498.0 892,497.8 898,497.5 904,497.2 910,497.0 916,496.7 922,496.7 928,496.7 934,496.8" stroke="#b8b8b8"/><polyline points="304,405.1 310,406.2 316,407.5 322,408.8 328,410.0 334,411.1 340,412.5 346,414.1 352,415.8 358,417.6 364,419.5 370,421.5 376,423.5 382,425.4 388,427.3 394,429.3 400,431.4 406,433.5 412,435.7 418,437.9 424,440.1 430,442.4 436,444.7 442,446.9 448,449.2 454,451.4 460,453.7 466,455.9 472,458.2 478,460.6 484,463.0 490,465.5 496,468.1 502,470.8 508,473.7 514,476.9 520,480.3 526,483.7 532,487.1 538,490.4 544,493.6 550,496.6 556,499.2 562,501.5 568,503.7 574,505.8 580,507.8 586,509.6 592,511.1 598,512.3 604,513.1 610,513.9 616,514.6 622,515.2 628,515.8 634,516.3 640,516.7 646,517.2 652,517.7 658,518.2 664,518.8 670,519.2 676,519.7 682,520.0 688,520.3 694,520.4 700,520.4 706,520.2 712,519.9 718,519.4 724,518.8 730,518.1 736,517.3 742,516.5 748,515.7 754,514.9 760,514.1 766,513.4 772,512.7 778,512.1 784,511.4 790,510.6 796,509.9 802,509.1 808,508.3 814,507.5 820,506.8 826,506.1 832,505.4 838,504.9 844,504.4 850,504.0 856,503.6 862,503.1 868,502.7 874,502.3 880,501.8 886,501.3 892,500.9 898,500.4 904,499.9 910,499.4 916,498.9 922,498.8 928,498.6 934,498.5" stroke="#b8b8b8"/><polyline points="382,426.5 388,428.6 394,430.8 400,433.0 406,435.3 412,437.6 418,440.0 424,442.3 430,444.7 436,447.1 442,449.4 448,451.8 454,454.1 460,456.4 466,458.6 472,460.9 478,463.3 484,465.6 490,468.1 496,470.6 502,473.2 508,476.0 514,479.1 520,482.3 526,485.6 532,488.8 538,492.0 544,495.0 550,497.8 556,500.3 562,502.4 568,504.4 574,506.4 580,508.2 586,509.8 592,511.2 598,512.2 604,513.0 610,513.7 616,514.3 622,514.9 628,515.4 634,515.9 640,516.4 646,516.9 652,517.4 658,518.0 664,518.7 670,519.3 676,519.8 682,520.3 688,520.7 694,521.0 700,521.2 706,521.2 712,521.0 718,520.7 724,520.2 730,519.7 736,519.0 742,518.4 748,517.7 754,516.9 760,516.2 766,515.6 772,514.9 778,514.3 784,513.6 790,512.8 796,512.0 802,511.2 808,510.3 814,509.4 820,508.6 826,507.8 832,507.0 838,506.3 844,505.6 850,505.0 856,504.4 862,503.8 868,503.2 874,502.5 880,501.9 886,501.3 892,500.7 898,500.0 904,499.4 910,498.8 916,498.3 922,498.0 928,497.8 934,497.7" stroke="#c0c0c0"/><polyline points="382,416.5 388,418.8 394,421.1 400,423.4 406,425.8 412,428.2 418,430.6 424,433.0 430,435.3 436,437.7 442,440.0 448,442.2 454,444.3 460,446.5 466,448.5 472,450.6 478,452.8 484,454.9 490,457.1 496,459.4 502,461.8 508,464.4 514,467.3 520,470.3 526,473.3 532,476.4 538,479.4 544,482.3 550,485.1 556,487.5 562,489.7 568,491.8 574,493.8 580,495.8 586,497.6 592,499.2 598,500.6 604,501.7 610,502.8 616,503.8 622,504.8 628,505.7 634,506.6 640,507.4 646,508.3 652,509.2 658,510.2 664,511.1 670,512.0 676,512.9 682,513.6 688,514.3 694,514.8 700,515.0 706,515.1 712,515.0 718,514.8 724,514.4 730,513.9 736,513.4 742,512.7 748,512.0 754,511.3 760,510.6 766,509.8 772,509.2 778,508.4 784,507.6 790,506.7 796,505.7 802,504.7 808,503.7 814,502.7 820,501.6 826,500.7 832,499.8 838,499.0 844,498.3 850,497.7 856,497.1 862,496.5 868,495.9 874,495.4 880,494.8 886,494.2 892,493.7 898,493.2 904,492.7 910,492.3 916,491.9 922,491.7 928,491.7 934,491.6" stroke="#9a9aa8"/><polyline points="232,382.4 238,382.2 244,382.1 250,382.0 256,381.9 262,381.8 268,381.8 274,381.8 280,381.9 286,382.1 292,382.6 298,383.2 304,384.1 310,385.0 316,386.0 322,387.1 328,388.1 334,389.2 340,390.7 346,392.5 352,394.6 358,396.8 364,399.1 370,401.5 376,403.8 382,406.0 388,408.2 394,410.4 400,412.7 406,415.0 412,417.4 418,419.7 424,422.0 430,424.2 436,426.4 442,428.5 448,430.5 454,432.5 460,434.4 466,436.2 472,438.1 478,440.0 484,442.0 490,444.0 496,446.1 502,448.4 508,450.9 514,453.7 520,456.6 526,459.6 532,462.6 538,465.6 544,468.6 550,471.4 556,474.0 562,476.4 568,478.8 574,481.1 580,483.4 586,485.5 592,487.5 598,489.3 604,490.9 610,492.4 616,493.9 622,495.3 628,496.7 634,498.0 640,499.2 646,500.3 652,501.5 658,502.8 664,504.0 670,505.1 676,506.1 682,507.0 688,507.7 694,508.2 700,508.5 706,508.5 712,508.4 718,508.1 724,507.6 730,507.0 736,506.4 742,505.6 748,504.8 754,504.0 760,503.2 766,502.3 772,501.5 778,500.7 784,499.7 790,498.7 796,497.6 802,496.4 808,495.3 814,494.2 820,493.1 826,492.2 832,491.3 838,490.6 844,490.0 850,489.6 856,489.1 862,488.7 868,488.3 874,488.0 880,487.7 886,487.4 892,487.1 898,486.8 904,486.6 910,486.4 916,486.3 922,486.3 928,486.5 934,486.6" stroke="#9a9aa8"/><polyline points="190,402.7 196,403.3 202,404.1 208,405.0 214,405.7 220,406.3 226,406.8 232,407.2 238,407.4 244,407.5 250,407.4 256,407.2 262,407.0 268,406.9 274,406.8 280,406.9 286,407.3 292,408.1 298,409.3 304,410.8 310,412.5 316,414.3 322,416.1 328,417.8 334,419.4 340,421.1 346,423.0 352,425.0 358,427.0 364,429.1 370,431.2 376,433.2 382,435.2 388,437.2 394,439.2 400,441.2 406,443.3 412,445.3 418,447.3 424,449.4 430,451.4 436,453.4 442,455.4 448,457.4 454,459.4 460,461.3 466,463.3 472,465.3 478,467.4 484,469.5 490,471.7 496,474.0 502,476.5 508,479.2 514,482.2 520,485.4 526,488.7 532,492.0 538,495.3 544,498.4 550,501.3 556,504.0 562,506.3 568,508.5 574,510.6 580,512.7 586,514.5 592,516.2 598,517.5 604,518.4 610,519.3 616,520.1 622,520.9 628,521.6 634,522.3 640,522.9 646,523.6 652,524.3 658,525.0 664,525.7 670,526.3 676,526.9 682,527.3 688,527.7 694,527.9 700,527.9 706,527.7 712,527.3 718,526.8 724,526.0 730,525.2 736,524.2 742,523.2 748,522.1 754,521.0 760,519.9 766,518.8 772,517.8 778,516.9 784,515.8 790,514.7 796,513.6 802,512.5 808,511.4 814,510.4 820,509.4 826,508.4 832,507.5 838,506.7 844,506.0 850,505.4 856,504.9 862,504.3 868,503.8 874,503.4 880,502.9 886,502.5 892,502.2 898,501.8 904,501.5 910,501.2 916,500.9 922,501.0 928,501.2 934,501.4" stroke="#b8b8b8"/><polyline points="304,372.9 310,373.4 316,373.9 322,374.4 328,374.9 334,375.5 340,376.6 346,378.0 352,379.8 358,381.8 364,383.9 370,386.0 376,388.1 382,390.0 388,391.9 394,393.9 400,396.0 406,398.2 412,400.3 418,402.5 424,404.7 430,406.8 436,408.9 442,411.0 448,412.9 454,414.9 460,416.7 466,418.6 472,420.5 478,422.5 484,424.5 490,426.7 496,429.0 502,431.5 508,434.2 514,437.1 520,440.2 526,443.5 532,446.7 538,450.0 544,453.3 550,456.4 556,459.4 562,462.2 568,464.9 574,467.6 580,470.2 586,472.7 592,475.1 598,477.3 604,479.3 610,481.2 616,483.1 622,484.8 628,486.4 634,487.9 640,489.2 646,490.4 652,491.6 658,492.9 664,494.0 670,495.1 676,496.0 682,496.7 688,497.3 694,497.5 700,497.5 706,497.3 712,496.9 718,496.4 724,495.8 730,495.1 736,494.3 742,493.5 748,492.7 754,491.9 760,491.1 766,490.3 772,489.6 778,488.8 784,488.0 790,487.1 796,486.2 802,485.2 808,484.3 814,483.5 820,482.7 826,482.1 832,481.6 838,481.3 844,481.2 850,481.2 856,481.2 862,481.3 868,481.3 874,481.4 880,481.4 886,481.4 892,481.5 898,481.5 904,481.6 910,481.6 916,481.6 922,481.7 928,481.8 934,481.8" stroke="#a8a8b0"/><polyline points="304,416.2 310,417.8 316,419.4 322,421.0 328,422.5 334,423.9 340,425.4 346,427.0 352,428.7 358,430.5 364,432.4 370,434.3 376,436.2 382,438.0 388,439.9 394,441.9 400,443.8 406,445.9 412,447.9 418,450.0 424,452.2 430,454.3 436,456.5 442,458.8 448,461.0 454,463.2 460,465.5 466,467.8 472,470.1 478,472.5 484,475.0 490,477.5 496,480.1 502,482.9 508,485.9 514,489.2 520,492.6 526,496.1 532,499.6 538,503.0 544,506.2 550,509.2 556,511.8 562,514.1 568,516.2 574,518.2 580,520.0 586,521.7 592,523.0 598,524.0 604,524.6 610,525.1 616,525.5 622,525.9 628,526.2 634,526.4 640,526.7 646,527.0 652,527.3 658,527.6 664,528.0 670,528.3 676,528.6 682,528.8 688,528.9 694,529.0 700,528.9 706,528.6 712,528.2 718,527.7 724,526.9 730,526.1 736,525.3 742,524.4 748,523.4 754,522.5 760,521.6 766,520.8 772,520.0 778,519.3 784,518.5 790,517.8 796,517.0 802,516.1 808,515.3 814,514.6 820,513.8 826,513.1 832,512.4 838,511.8 844,511.2 850,510.7 856,510.2 862,509.6 868,509.1 874,508.6 880,508.1 886,507.6 892,507.0 898,506.5 904,506.0 910,505.4 916,504.9 922,504.8 928,504.7 934,504.6" stroke="#9a9aa8"/><polyline points="454,432.7 460,434.9 466,437.1 472,439.3 478,441.6 484,443.9 490,446.2 496,448.7 502,451.3 508,454.1 514,457.1 520,460.2 526,463.4 532,466.6 538,469.8 544,472.9 550,475.7 556,478.4 562,480.7 568,483.0 574,485.2 580,487.3 586,489.3 592,491.1 598,492.6 604,493.9 610,495.1 616,496.3 622,497.3 628,498.4 634,499.3 640,500.1 646,500.9 652,501.8 658,502.7 664,503.6 670,504.4 676,505.2 682,505.9 688,506.4 694,506.8 700,506.9 706,506.9 712,506.7 718,506.4 724,506.0 730,505.5 736,504.9 742,504.3 748,503.7 754,503.1 760,502.5 766,501.9 772,501.4 778,500.9 784,500.2 790,499.5 796,498.7 802,497.9 808,497.1 814,496.3 820,495.5 826,494.8 832,494.2 838,493.7 844,493.3 850,493.0 856,492.6 862,492.3 868,491.9 874,491.5 880,491.1 886,490.7 892,490.3 898,489.9 904,489.5 910,489.1 916,488.7 922,488.5 928,488.3 934,488.1" stroke="#9a9aa8"/><polyline points="454,429.9 460,432.0 466,434.1 472,436.2 478,438.3 484,440.4 490,442.6 496,444.8 502,447.2 508,449.8 514,452.6 520,455.6 526,458.6 532,461.7 538,464.7 544,467.6 550,470.4 556,472.9 562,475.2 568,477.5 574,479.7 580,481.8 586,483.8 592,485.6 598,487.2 604,488.7 610,490.1 616,491.4 622,492.7 628,493.9 634,495.1 640,496.1 646,497.2 652,498.3 658,499.4 664,500.5 670,501.6 676,502.6 682,503.5 688,504.2 694,504.7 700,505.0 706,505.1 712,505.0 718,504.8 724,504.5 730,504.1 736,503.6 742,503.1 748,502.5 754,501.9 760,501.3 766,500.7 772,500.1 778,499.5 784,498.7 790,497.9 796,496.9 802,496.0 808,495.0 814,494.0 820,493.1 826,492.2 832,491.5 838,490.8 844,490.3 850,489.9 856,489.4 862,489.0 868,488.6 874,488.1 880,487.7 886,487.3 892,486.8 898,486.5 904,486.1 910,485.7 916,485.4 922,485.2 928,485.1 934,485.0" stroke="#9a9aa8"/><polyline points="190,380.4 196,379.6 202,378.4 208,377.4 214,376.4 220,375.6 226,374.9 232,374.3 238,374.0 244,373.9 250,373.8 256,373.7 262,373.6 268,373.6 274,373.7 280,373.7 286,373.9 292,374.2 298,374.7 304,375.3 310,375.9 316,376.7 322,377.5 328,378.2 334,379.1 340,380.5 346,382.2 352,384.3 358,386.6 364,389.0 370,391.4 376,393.7 382,395.9 388,398.2 394,400.5 400,402.9 406,405.3 412,407.7 418,410.1 424,412.5 430,414.8 436,417.0 442,419.2 448,421.2 454,423.2 460,425.1 466,427.0 472,428.8 478,430.7 484,432.6 490,434.6 496,436.7 502,439.0 508,441.5 514,444.1 520,447.0 526,449.9 532,452.9 538,455.9 544,458.8 550,461.6 556,464.2 562,466.7 568,469.1 574,471.5 580,473.8 586,476.0 592,478.1 598,480.1 604,481.9 610,483.6 616,485.3 622,486.9 628,488.5 634,489.9 640,491.3 646,492.6 652,493.9 658,495.3 664,496.6 670,497.9 676,499.1 682,500.1 688,500.9 694,501.5 700,501.8 706,501.8 712,501.7 718,501.5 724,501.1 730,500.7 736,500.1 742,499.5 748,498.8 754,498.0 760,497.3 766,496.5 772,495.8 778,495.0 784,494.1 790,493.1 796,492.0 802,490.9 808,489.8 814,488.7 820,487.7 826,486.8 832,486.0 838,485.3 844,484.8 850,484.4 856,484.1 862,483.7 868,483.4 874,483.1 880,482.8 886,482.5 892,482.3 898,482.1 904,481.9 910,481.8 916,481.6 922,481.7 928,481.7 934,481.8" stroke="#c0c0c0"/><polyline points="304,409.2 310,410.9 316,412.7 322,414.4 328,416.1 334,417.7 340,419.5 346,421.4 352,423.4 358,425.5 364,427.6 370,429.8 376,431.9 382,433.9 388,436.0 394,438.0 400,440.1 406,442.2 412,444.2 418,446.3 424,448.4 430,450.4 436,452.5 442,454.5 448,456.5 454,458.5 460,460.4 466,462.4 472,464.4 478,466.4 484,468.5 490,470.7 496,473.0 502,475.4 508,478.1 514,481.0 520,484.2 526,487.4 532,490.6 538,493.9 544,496.9 550,499.8 556,502.4 562,504.7 568,506.9 574,509.0 580,511.0 586,512.9 592,514.5 598,515.8 604,516.8 610,517.7 616,518.6 622,519.4 628,520.1 634,520.8 640,521.5 646,522.2 652,523.0 658,523.8 664,524.5 670,525.2 676,525.8 682,526.3 688,526.7 694,527.0 700,527.1 706,527.0 712,526.6 718,526.1 724,525.4 730,524.6 736,523.7 742,522.7 748,521.6 754,520.6 760,519.5 766,518.4 772,517.4 778,516.5 784,515.4 790,514.3 796,513.2 802,512.1 808,510.9 814,509.8 820,508.8 826,507.8 832,506.9 838,506.0 844,505.3 850,504.7 856,504.1 862,503.5 868,503.0 874,502.5 880,502.0 886,501.6 892,501.2 898,500.8 904,500.5 910,500.2 916,499.9 922,500.0 928,500.2 934,500.4" stroke="#a8a8b0"/><polyline points="232,412.3 238,412.6 244,412.8 250,412.7 256,412.6 262,412.4 268,412.2 274,412.2 280,412.2 286,412.6 292,413.4 298,414.7 304,416.2 310,418.0 316,419.8 322,421.6 328,423.3 334,424.9 340,426.5 346,428.3 352,430.2 358,432.1 364,434.0 370,436.0 376,437.9 382,439.8 388,441.6 394,443.5 400,445.5 406,447.4 412,449.4 418,451.3 424,453.3 430,455.3 436,457.3 442,459.4 448,461.4 454,463.4 460,465.4 466,467.5 472,469.6 478,471.8 484,474.1 490,476.4 496,478.9 502,481.5 508,484.4 514,487.5 520,490.9 526,494.3 532,497.8 538,501.2 544,504.4 550,507.4 556,510.1 562,512.4 568,514.6 574,516.8 580,518.8 586,520.6 592,522.1 598,523.3 604,524.1 610,524.8 616,525.5 622,526.0 628,526.5 634,527.0 640,527.4 646,527.9 652,528.4 658,528.9 664,529.4 670,529.8 676,530.2 682,530.5 688,530.6 694,530.7 700,530.6 706,530.4 712,529.9 718,529.2 724,528.4 730,527.5 736,526.5 742,525.4 748,524.3 754,523.2 760,522.1 766,521.0 772,520.1 778,519.1 784,518.2 790,517.2 796,516.2 802,515.2 808,514.2 814,513.2 820,512.3 826,511.5 832,510.7 838,510.0 844,509.4 850,508.9 856,508.3 862,507.9 868,507.4 874,506.9 880,506.5 886,506.1 892,505.7 898,505.4 904,505.0 910,504.7 916,504.3 922,504.4 928,504.5 934,504.6" stroke="#b8b8b8"/><polyline points="304,399.0 310,400.1 316,401.2 322,402.4 328,403.4 334,404.5 340,405.8 346,407.3 352,409.0 358,410.9 364,412.8 370,414.8 376,416.7 382,418.6 388,420.5 394,422.4 400,424.4 406,426.5 412,428.6 418,430.8 424,432.9 430,435.1 436,437.3 442,439.4 448,441.6 454,443.7 460,445.8 466,448.0 472,450.2 478,452.4 484,454.7 490,457.2 496,459.7 502,462.3 508,465.3 514,468.4 520,471.8 526,475.2 532,478.6 538,482.0 544,485.2 550,488.3 556,491.0 562,493.5 568,495.9 574,498.1 580,500.3 586,502.3 592,504.0 598,505.5 604,506.6 610,507.7 616,508.6 622,509.5 628,510.3 634,511.0 640,511.7 646,512.3 652,513.0 658,513.6 664,514.3 670,514.9 676,515.4 682,515.8 688,516.0 694,516.2 700,516.1 706,515.9 712,515.4 718,514.9 724,514.2 730,513.5 736,512.6 742,511.8 748,510.9 754,510.0 760,509.2 766,508.4 772,507.7 778,507.0 784,506.2 790,505.4 796,504.6 802,503.8 808,502.9 814,502.2 820,501.4 826,500.8 832,500.2 838,499.7 844,499.3 850,499.1 856,498.8 862,498.5 868,498.2 874,497.9 880,497.6 886,497.3 892,497.0 898,496.7 904,496.4 910,496.1 916,495.7 922,495.7 928,495.6 934,495.6" stroke="#c0c0c0"/><polyline points="382,387.3 388,389.4 394,391.6 400,393.9 406,396.2 412,398.6 418,401.1 424,403.5 430,405.9 436,408.3 442,410.6 448,412.9 454,415.0 460,417.1 466,419.2 472,421.4 478,423.5 484,425.7 490,428.0 496,430.4 502,433.0 508,435.7 514,438.7 520,441.8 526,444.9 532,448.1 538,451.3 544,454.4 550,457.4 556,460.2 562,462.8 568,465.3 574,467.7 580,470.1 586,472.4 592,474.5 598,476.4 604,478.1 610,479.8 616,481.4 622,483.0 628,484.4 634,485.7 640,486.8 646,487.9 652,489.0 658,490.2 664,491.3 670,492.3 676,493.3 682,494.1 688,494.7 694,495.1 700,495.2 706,495.1 712,494.9 718,494.6 724,494.2 730,493.8 736,493.3 742,492.7 748,492.2 754,491.6 760,491.1 766,490.6 772,490.1 778,489.6 784,489.0 790,488.3 796,487.6 802,486.8 808,486.0 814,485.3 820,484.6 826,484.0 832,483.5 838,483.1 844,483.0 850,482.9 856,482.8 862,482.7 868,482.5 874,482.4 880,482.2 886,482.0 892,481.8 898,481.6 904,481.3 910,481.1 916,480.9 922,480.7 928,480.5 934,480.3" stroke="#9a9aa8"/><polyline points="382,385.6 388,387.8 394,390.2 400,392.6 406,395.1 412,397.7 418,400.2 424,402.7 430,405.2 436,407.6 442,410.0 448,412.2 454,414.3 460,416.4 466,418.5 472,420.5 478,422.5 484,424.6 490,426.8 496,429.0 502,431.4 508,434.0 514,436.8 520,439.7 526,442.7 532,445.7 538,448.7 544,451.6 550,454.5 556,457.1 562,459.6 568,462.0 574,464.4 580,466.7 586,468.9 592,471.0 598,472.9 604,474.7 610,476.5 616,478.2 622,479.8 628,481.4 634,482.8 640,484.1 646,485.3 652,486.6 658,487.9 664,489.3 670,490.5 676,491.6 682,492.6 688,493.4 694,494.0 700,494.3 706,494.4 712,494.3 718,494.1 724,493.9 730,493.6 736,493.2 742,492.7 748,492.2 754,491.7 760,491.2 766,490.7 772,490.2 778,489.7 784,489.0 790,488.2 796,487.4 802,486.5 808,485.5 814,484.6 820,483.8 826,483.0 832,482.4 838,481.9 844,481.6 850,481.3 856,481.1 862,480.8 868,480.6 874,480.3 880,480.0 886,479.7 892,479.5 898,479.2 904,478.9 910,478.7 916,478.4 922,478.2 928,478.1 934,478.0" stroke="#b8b8b8"/><polyline points="304,410.0 310,411.6 316,413.3 322,415.1 328,416.7 334,418.3 340,420.1 346,422.1 352,424.1 358,426.3 364,428.5 370,430.8 376,433.0 382,435.2 388,437.4 394,439.6 400,441.9 406,444.2 412,446.4 418,448.7 424,451.0 430,453.3 436,455.5 442,457.7 448,459.9 454,462.0 460,464.2 466,466.3 472,468.4 478,470.5 484,472.7 490,474.9 496,477.2 502,479.6 508,482.3 514,485.2 520,488.2 526,491.4 532,494.5 538,497.6 544,500.5 550,503.2 556,505.6 562,507.6 568,509.5 574,511.4 580,513.2 586,514.8 592,516.2 598,517.3 604,518.0 610,518.7 616,519.3 622,519.9 628,520.5 634,521.1 640,521.7 646,522.3 652,523.0 658,523.7 664,524.5 670,525.2 676,525.9 682,526.5 688,527.0 694,527.4 700,527.6 706,527.7 712,527.5 718,527.2 724,526.7 730,526.1 736,525.4 742,524.6 748,523.8 754,522.9 760,522.0 766,521.1 772,520.2 778,519.4 784,518.4 790,517.4 796,516.4 802,515.3 808,514.2 814,513.1 820,512.0 826,510.9 832,509.9 838,509.0 844,508.1 850,507.3 856,506.5 862,505.7 868,505.0 874,504.3 880,503.6 886,502.9 892,502.2 898,501.6 904,501.1 910,500.6 916,500.1 922,500.0 928,500.0 934,500.1" stroke="#b8b8b8"/><polyline points="190,386.6 196,386.2 202,385.6 208,385.2 214,384.7 220,384.3 226,384.0 232,383.8 238,383.7 244,383.7 250,383.7 256,383.6 262,383.6 268,383.6 274,383.6 280,383.8 286,384.1 292,384.6 298,385.4 304,386.3 310,387.3 316,388.4 322,389.5 328,390.6 334,391.8 340,393.3 346,395.1 352,397.1 358,399.3 364,401.6 370,403.9 376,406.1 382,408.2 388,410.4 394,412.5 400,414.8 406,417.0 412,419.2 418,421.5 424,423.7 430,425.8 436,427.9 442,430.0 448,431.9 454,433.8 460,435.7 466,437.6 472,439.4 478,441.3 484,443.3 490,445.3 496,447.4 502,449.7 508,452.3 514,455.1 520,458.0 526,461.1 532,464.2 538,467.3 544,470.3 550,473.2 556,475.9 562,478.3 568,480.7 574,483.1 580,485.4 586,487.6 592,489.6 598,491.4 604,493.1 610,494.6 616,496.1 622,497.5 628,498.9 634,500.1 640,501.3 646,502.4 652,503.6 658,504.8 664,505.9 670,507.0 676,508.0 682,508.8 688,509.5 694,509.9 700,510.1 706,510.0 712,509.8 718,509.4 724,508.9 730,508.2 736,507.5 742,506.6 748,505.8 754,504.9 760,503.9 766,503.0 772,502.2 778,501.3 784,500.3 790,499.2 796,498.1 802,496.9 808,495.8 814,494.7 820,493.7 826,492.7 832,491.9 838,491.2 844,490.7 850,490.3 856,489.9 862,489.5 868,489.2 874,488.9 880,488.6 886,488.4 892,488.2 898,488.0 904,487.8 910,487.7 916,487.6 922,487.7 928,487.9 934,488.0" stroke="#9a9aa8"/><polyline points="382,385.2 388,387.2 394,389.3 400,391.4 406,393.6 412,395.8 418,398.0 424,400.2 430,402.3 436,404.4 442,406.4 448,408.3 454,410.1 460,411.9 466,413.6 472,415.4 478,417.3 484,419.2 490,421.2 496,423.4 502,425.8 508,428.3 514,431.2 520,434.1 526,437.3 532,440.4 538,443.7 544,446.8 550,450.0 556,452.9 562,455.8 568,458.5 574,461.3 580,464.0 586,466.6 592,469.1 598,471.4 604,473.6 610,475.8 616,477.8 622,479.8 628,481.6 634,483.3 640,484.8 646,486.2 652,487.6 658,489.0 664,490.4 670,491.6 676,492.7 682,493.5 688,494.2 694,494.6 700,494.6 706,494.4 712,494.1 718,493.6 724,493.0 730,492.4 736,491.6 742,490.8 748,490.0 754,489.2 760,488.3 766,487.5 772,486.7 778,485.9 784,485.0 790,484.1 796,483.0 802,482.0 808,481.0 814,480.1 820,479.2 826,478.5 832,478.0 838,477.6 844,477.5 850,477.5 856,477.5 862,477.5 868,477.6 874,477.7 880,477.7 886,477.8 892,477.9 898,478.0 904,478.2 910,478.3 916,478.4 922,478.5 928,478.7 934,478.8" stroke="#b8b8b8"/><polyline points="454,448.6 460,450.7 466,452.9 472,455.0 478,457.3 484,459.6 490,462.0 496,464.5 502,467.2 508,470.1 514,473.2 520,476.6 526,480.0 532,483.5 538,486.9 544,490.1 550,493.2 556,496.0 562,498.4 568,500.7 574,503.0 580,505.1 586,507.1 592,508.8 598,510.2 604,511.3 610,512.2 616,513.1 622,513.9 628,514.6 634,515.3 640,515.9 646,516.5 652,517.1 658,517.7 664,518.3 670,518.8 676,519.3 682,519.6 688,519.9 694,520.0 700,519.9 706,519.6 712,519.2 718,518.6 724,517.8 730,517.0 736,516.1 742,515.2 748,514.2 754,513.3 760,512.4 766,511.5 772,510.7 778,510.0 784,509.1 790,508.3 796,507.4 802,506.6 808,505.7 814,504.9 820,504.1 826,503.4 832,502.8 838,502.3 844,501.9 850,501.5 856,501.2 862,500.9 868,500.6 874,500.3 880,499.9 886,499.6 892,499.3 898,499.0 904,498.7 910,498.4 916,498.1 922,498.0 928,498.1 934,498.0" stroke="#c0c0c0"/><polyline points="454,458.7 460,461.0 466,463.3 472,465.7 478,468.1 484,470.5 490,473.1 496,475.7 502,478.4 508,481.4 514,484.6 520,488.0 526,491.4 532,494.8 538,498.2 544,501.4 550,504.3 556,506.9 562,509.1 568,511.1 574,513.1 580,515.0 586,516.6 592,518.0 598,519.0 604,519.7 610,520.2 616,520.7 622,521.1 628,521.5 634,521.8 640,522.2 646,522.5 652,522.9 658,523.3 664,523.7 670,524.2 676,524.5 682,524.8 688,525.0 694,525.2 700,525.2 706,525.0 712,524.7 718,524.2 724,523.6 730,522.9 736,522.1 742,521.3 748,520.4 754,519.6 760,518.8 766,518.1 772,517.4 778,516.7 784,516.0 790,515.3 796,514.5 802,513.7 808,512.9 814,512.2 820,511.4 826,510.7 832,510.0 838,509.3 844,508.8 850,508.3 856,507.7 862,507.2 868,506.7 874,506.1 880,505.6 886,505.0 892,504.5 898,503.9 904,503.3 910,502.8 916,502.2 922,502.0 928,501.9 934,501.7" stroke="#c0c0c0"/><polyline points="304,376.0 310,376.4 316,376.9 322,377.5 328,378.0 334,378.7 340,379.8 346,381.3 352,383.2 358,385.2 364,387.5 370,389.7 376,392.0 382,394.1 388,396.3 394,398.6 400,401.0 406,403.4 412,405.9 418,408.4 424,410.9 430,413.4 436,415.8 442,418.1 448,420.4 454,422.6 460,424.7 466,426.8 472,428.9 478,431.1 484,433.3 490,435.5 496,437.9 502,440.3 508,443.0 514,445.9 520,448.9 526,451.9 532,455.0 538,458.1 544,461.1 550,463.9 556,466.6 562,469.0 568,471.3 574,473.6 580,475.8 586,477.9 592,479.8 598,481.6 604,483.2 610,484.7 616,486.1 622,487.5 628,488.8 634,490.0 640,491.1 646,492.1 652,493.2 658,494.4 664,495.5 670,496.6 676,497.6 682,498.4 688,499.1 694,499.6 700,499.8 706,499.9 712,499.8 718,499.5 724,499.2 730,498.8 736,498.4 742,497.9 748,497.4 754,496.8 760,496.3 766,495.8 772,495.3 778,494.7 784,494.1 790,493.3 796,492.5 802,491.6 808,490.8 814,489.9 820,489.1 826,488.3 832,487.7 838,487.2 844,486.8 850,486.5 856,486.3 862,485.9 868,485.6 874,485.3 880,485.0 886,484.6 892,484.3 898,483.9 904,483.6 910,483.2 916,482.9 922,482.7 928,482.5 934,482.4" stroke="#b8b8b8"/></g><g fill="none" stroke="#ec5a5e" stroke-width="1.6" opacity="0.6"><polyline points="546,472.6 551,474.6 556,476.6 561,478.5 566,480.3 571,482.1 576,483.9 581,485.7 586,487.3 591,488.8 596,490.2 601,491.4 606,492.4 611,493.5 616,494.5 621,495.4 626,496.3 631,497.1 636,498.0"/><polyline points="753,515.4 758,514.8 763,514.2 768,513.6 773,513.0 778,512.4 783,511.8 788,511.1 793,510.4 798,509.6 803,508.8 808,508.1 813,507.3 818,506.6"/><polyline points="686,509.7 691,510.1 696,510.3 701,510.4 706,510.3 711,510.1 716,509.9 721,509.5 726,509.1 731,508.5 736,508.0 741,507.4 746,506.8 751,506.1 756,505.4 761,504.8 766,504.1 771,503.5 776,502.8 781,502.1 786,501.3 791,500.4 796,499.5 801,498.5 806,497.5 811,496.5 816,495.6 821,494.7"/><polyline points="606,499.6 611,500.4 616,501.2 621,502.0 626,502.8 631,503.5 636,504.1 641,504.8 646,505.5 651,506.3 656,507.0"/><polyline points="610,511.1 615,511.6 620,512.2 625,512.7 630,513.1 635,513.6 640,514.0 645,514.5 650,515.0 655,515.6 660,516.1 665,516.6 670,517.1 675,517.5 680,517.9 685,518.2 690,518.4 695,518.6 700,518.6 705,518.6 710,518.4 715,518.1 720,517.8 725,517.4 730,516.9 735,516.3"/><polyline points="728,510.5 733,510.0 738,509.4 743,508.8 748,508.2 753,507.5 758,506.8 763,506.2 768,505.5 773,504.9 778,504.3 783,503.5 788,502.7 793,501.8 798,500.9 803,499.9 808,499.0 813,498.1 818,497.2 823,496.3 828,495.6 833,494.9"/><polyline points="753,503.4 758,502.8 763,502.1 768,501.4 773,500.8 778,500.1 783,499.2 788,498.3 793,497.4 798,496.4 803,495.4 808,494.3 813,493.3 818,492.3 823,491.4 828,490.6 833,489.8 838,489.2 843,488.7 848,488.3 853,487.9 858,487.6 863,487.2 868,486.8 873,486.5"/><polyline points="672,508.3 677,508.9 682,509.5 687,510.0 692,510.3 697,510.5 702,510.5 707,510.4 712,510.2 717,509.9 722,509.5 727,509.0 732,508.5 737,507.9 742,507.3 747,506.6 752,506.0 757,505.3 762,504.7 767,504.0 772,503.4 777,502.7 782,501.9"/><polyline points="625,514.1 630,514.5 635,514.9 640,515.4 645,515.8 650,516.3 655,516.8 660,517.2 665,517.7 670,518.2 675,518.6 680,518.9 685,519.2 690,519.5"/><polyline points="601,497.8 606,498.8 611,499.7 616,500.5 621,501.3 626,502.0 631,502.8 636,503.5 641,504.1 646,504.9 651,505.6 656,506.4 661,507.2 666,507.9 671,508.6 676,509.3 681,509.9 686,510.3 691,510.7 696,510.9 701,510.9 706,510.8 711,510.6 716,510.4"/></g><polyline points="205.0,402.0 240.0,404.0 281.0,407.0 348.0,417.0 396.0,432.0 436.0,442.0 484.0,458.0 520.0,468.0 560.0,480.0 600.0,492.0" fill="none" stroke="#b8b0cc" stroke-width="7" stroke-linecap="round" opacity="0.7" filter="url(#b2)"/><polyline points="938.0,491.0 880.0,492.0 820.0,498.0 760.0,503.0 700.0,508.0 640.0,500.0 600.0,490.0 560.0,476.0 520.0,464.0" fill="none" stroke="#707080" stroke-width="0.8" stroke-dasharray="4,3" opacity="0.55"/><polyline points="520.0,464.0 484.0,460.0 459.6,447.0 436.6,442.7 415.0,436.5 396.0,432.0 348.0,417.0 281.0,407.0 240.0,404.0 202.0,403.0 203.0,390.0" fill="none" stroke="#8c86c4" stroke-width="1.3" stroke-dasharray="5,3" opacity="0.9"/><circle cx="520.0" cy="464.0" r="1.8" fill="#8c86c4" opacity="0.8"/><circle cx="484.0" cy="460.0" r="1.8" fill="#8c86c4" opacity="0.8"/><circle cx="459.6" cy="447.0" r="1.8" fill="#8c86c4" opacity="0.8"/><circle cx="436.6" cy="442.7" r="1.8" fill="#8c86c4" opacity="0.8"/><circle cx="415.0" cy="436.5" r="1.8" fill="#8c86c4" opacity="0.8"/><circle cx="396.0" cy="432.0" r="1.8" fill="#8c86c4" opacity="0.8"/><circle cx="348.0" cy="417.0" r="1.8" fill="#8c86c4" opacity="0.8"/><circle cx="281.0" cy="407.0" r="1.8" fill="#8c86c4" opacity="0.8"/><circle cx="240.0" cy="404.0" r="1.8" fill="#8c86c4" opacity="0.8"/><circle cx="202.0" cy="403.0" r="1.8" fill="#8c86c4" opacity="0.8"/><circle cx="203.0" cy="390.0" r="1.8" fill="#8c86c4" opacity="0.8"/><polyline points="938.0,490.0 860.0,492.0 780.0,500.0 700.0,508.0 640.0,497.0 580.0,475.0 520.0,455.0 470.0,440.0 446.0,435.6" fill="none" stroke="#b8d860" stroke-width="1.2" opacity="0.5"/><polyline points="446.0,435.6 440.0,430.0 429.6,428.5 411.0,421.0 390.6,414.0 370.0,408.0 303.0,392.0" fill="none" stroke="#a8d040" stroke-width="1.4" opacity="0.75"/><polyline points="303.0,392.0 259.0,382.0 234.0,358.0 205.5,359.0 211.0,339.0 129.6,339.6" fill="none" stroke="#a4cc3c" stroke-width="1.6" opacity="0.95"/><circle cx="446.0" cy="435.6" r="2.0" fill="#a8d040" opacity="0.8"/><circle cx="440.0" cy="430.0" r="2.0" fill="#a8d040" opacity="0.8"/><circle cx="429.6" cy="428.5" r="2.0" fill="#a8d040" opacity="0.8"/><circle cx="411.0" cy="421.0" r="2.0" fill="#a8d040" opacity="0.8"/><circle cx="390.6" cy="414.0" r="2.0" fill="#a8d040" opacity="0.8"/><circle cx="370.0" cy="408.0" r="2.0" fill="#a8d040" opacity="0.8"/><circle cx="303.0" cy="392.0" r="2.0" fill="#a8d040" opacity="0.8"/><circle cx="259.0" cy="382.0" r="2.5" fill="#a4cc3c"/><circle cx="234.0" cy="358.0" r="2.5" fill="#a4cc3c"/><circle cx="205.5" cy="359.0" r="2.5" fill="#a4cc3c"/><circle cx="211.0" cy="339.0" r="2.5" fill="#a4cc3c"/><circle cx="129.6" cy="339.6" r="2.5" fill="#a4cc3c"/><!--/tracks-->
<!--coast--><defs><clipPath id="mapclip"><rect x="40" y="50" width="930" height="741"/></clipPath></defs><g clip-path="url(#mapclip)"><path d="M41.8,60.6 44.7,61.5 47.6,62.4 50.3,64.1 53.2,65.0 57.2,65.7 61.0,67.2 62.1,71.0 64.2,74.3 66.6,77.5 68.7,80.9 71.3,83.4 73.1,86.5 75.3,89.3M75.3,89.3 78.4,88.8 81.4,89.2 84.4,88.8 87.5,89.3 90.6,89.1 93.7,89.7 96.8,90.4 100.0,89.9 103.1,90.3 106.2,90.8 109.4,90.9 112.6,91.2 115.8,90.8 119.0,90.5 122.2,91.1 125.3,90.0 128.6,90.9 131.7,90.2 134.9,90.4 138.3,90.5 141.6,90.9 144.9,91.5 148.1,92.5 151.5,92.3 154.8,93.0 157.7,94.6 160.6,96.1 163.6,97.5 167.0,98.4 170.2,99.7 173.7,100.3 176.9,101.9 180.0,101.6 183.1,102.0 186.1,102.7 189.2,102.7 192.3,103.0 194.5,105.6 200.0,106.3 202.8,105.0 205.8,104.2 208.6,102.9 211.4,101.7 214.4,100.8 217.4,100.2 220.3,99.1 223.1,97.7 226.2,97.2 229.1,96.2 232.1,95.3 235.3,95.5 238.4,95.2 241.6,94.5 244.8,95.1 248.0,94.0 251.2,94.1 254.4,94.3 257.5,93.5 260.8,93.7 264.5,93.0 268.2,91.7 272.0,91.5M75.3,89.7 72.0,91.9 71.5,95.2 71.0,98.5 70.9,101.9 67.9,102.5 64.9,102.9 62.1,104.1 59.1,105.1 55.9,105.5 52.9,106.5 49.9,107.4 47.2,109.2 44.5,111.1 41.8,112.9M87.5,89.3 88.5,92.9 89.8,96.3 91.6,99.5 93.0,103.0 95.2,108.5 98.0,111.2 101.4,113.3 104.0,116.2 104.5,121.1 107.3,120.0 110.1,118.7 112.8,117.3 116.5,117.7 120.0,117.4 123.6,116.6 127.2,116.7 130.9,120.6 127.5,123.5 123.9,126.2 122.1,131.2 125.6,132.4 129.3,132.8 132.7,134.3 135.3,136.0 138.1,137.4 140.4,139.4 142.7,142.2 144.2,145.4 147.8,145.6 151.2,147.1 154.8,147.6 157.0,142.7 160.6,141.7 164.3,141.3 168.0,140.9 171.3,140.1 174.8,139.8 177.9,138.2 181.3,137.9 184.4,138.6 187.5,139.4 188.3,144.9 185.4,147.2 182.2,149.3 179.5,152.0 178.4,155.2 178.0,158.6 180.8,160.9 184.2,162.4 187.1,164.5 190.1,166.6 193.4,165.5 196.8,165.2 200.2,164.4 203.4,163.0 207.7,161.9 212.2,161.5 212.4,157.8 213.0,154.3 213.6,150.7 214.4,147.1 216.6,144.4 218.8,141.6 222.2,140.0 225.4,138.3 229.4,140.9 228.2,145.0 226.5,148.9 224.3,153.3 227.2,154.5 229.5,156.5 232.1,158.2 235.4,159.4 238.6,161.0 241.8,162.8 245.3,163.7 249.7,163.6 254.1,163.0 255.8,159.5 257.4,156.0 260.3,153.3 263.0,150.4 265.4,148.4 267.1,145.7 270.1,144.1 272.0,141.6M41.8,139.4 45.8,139.7 49.9,139.4 52.9,140.6 55.9,141.4 59.1,141.8 62.1,142.7 64.8,144.0 67.6,145.2 70.0,147.1 73.0,148.0 75.7,149.4 78.3,150.9 80.8,152.6 84.2,153.3 84.1,149.4 84.7,145.5 85.3,141.6 88.6,141.7 91.9,142.7 96.0,143.9 99.6,146.0 102.8,144.6 106.2,143.8 110.2,144.2 114.0,145.4 117.3,146.9 120.8,148.3 123.9,150.4 127.1,151.9 130.5,152.6 133.8,154.6 137.1,156.4 140.2,157.3 143.1,158.6 146.0,159.9 149.0,161.1 152.0,162.1 154.8,163.7M89.7,153.8 93.0,152.6 96.3,154.9 95.2,156.4 91.2,156.0 89.7,153.8M55.5,172.5 59.9,174.1M81.9,171.0 85.3,171.4M105.1,196.8 109.5,198.3M93.0,204.5 94.7,201.9 97.8,204.5 93.0,204.5M137.1,55.5 141.5,56.0M123.9,172.5 127.2,170.3 132.7,171.0 137.1,174.7 139.3,176.9 137.1,179.1 131.6,178.0 128.4,176.6 125.0,175.8 123.9,172.5M90.8,237.0 91.2,233.3 90.5,229.6 90.4,225.9 90.3,222.2 94.1,217.8 97.4,217.7 100.8,218.1 104.0,218.9 107.1,221.3 110.1,223.8 112.8,226.6 115.4,228.8 118.6,230.2 121.4,232.0 123.9,234.3 128.3,237.0M130.0,152.6 133.1,154.7 136.6,155.9 140.0,157.2 143.1,159.2 146.3,160.2 149.5,160.7 152.5,162.2 155.6,163.1 157.0,162.5 158.3,165.8 161.3,168.2 164.8,169.7 165.5,173.0M143.1,211.8 139.9,213.1 141.8,218.4 144.3,220.3 147.1,221.7M143.1,234.1 137.9,236.1 135.3,240.1M178.0,150.0 177.4,153.3 177.3,156.6 178.6,161.8 182.1,163.6 185.2,165.8 190.5,166.8 195.7,166.4 199.6,165.0 203.6,163.8 206.8,162.5 210.2,161.8 212.8,157.9 213.5,154.0 213.5,150.0M195.7,167.1 198.4,169.7 201.0,171.4 203.6,173.0M224.0,174.3 224.7,171.7 228.6,171.7 232.6,171.0 233.9,167.1 235.2,163.1 239.1,161.2 242.5,162.3 245.7,163.8 248.7,163.3 251.9,163.7 254.9,163.1 257.5,157.9 260.0,154.2 261.5,150.0M233.9,171.0 233.9,173.7M222.0,150.0 224.7,153.9 227.7,156.2 231.2,157.9 234.4,159.2 237.8,159.9M272.0,91.5 275.5,90.3 278.7,88.6 281.8,86.6 285.2,85.3 288.3,83.6 291.3,81.7 294.3,79.6 297.3,77.8 300.7,76.5 298.3,73.7 296.1,70.8 294.1,67.7 295.4,63.9 296.3,59.9 299.4,58.1 301.8,55.5 305.4,56.3 308.9,57.6 312.4,58.5 316.2,58.8 319.5,59.1 322.8,58.1 326.1,57.7 329.4,57.7 332.2,55.5 335.1,53.5 338.2,51.8 341.3,51.3 344.4,51.6 347.5,51.8 350.6,51.6 353.7,51.1M448.6,51.1 449.2,54.4 449.5,57.8 449.9,61.1 450.8,64.3 454.5,64.3 458.1,65.3 461.8,65.5 463.7,69.0 466.3,72.1 467.1,76.0 468.5,79.8 472.0,81.5 475.8,82.7 479.5,84.2 483.5,85.0 487.2,86.4 489.4,82.0 489.7,85.4 490.5,88.6 492.8,94.2 494.4,97.8 495.4,101.6 497.2,105.2 498.2,108.4 500.2,111.0 501.6,114.0 504.0,117.3M272.0,140.5 276.4,139.8 280.8,139.4 283.9,139.1 286.8,138.2 289.7,137.2 294.1,135.0 296.6,132.5 299.3,130.3 302.1,128.1 305.1,126.2 308.5,125.8 311.8,124.8 315.0,123.3 318.4,122.8 321.7,123.1 325.0,123.2 328.3,122.7 331.6,122.4 335.0,124.1 338.2,126.2 337.1,130.0 336.0,133.9 331.6,137.2 329.7,140.2 327.2,142.7 327.0,145.8 325.2,148.5 325.0,151.5 327.6,155.0 330.5,158.2 331.6,161.5 332.7,164.8 330.6,167.9 329.4,171.4 327.2,174.8 325.0,178.0M331.6,122.4 331.4,118.4 330.8,114.6 329.8,110.7 331.6,107.9 333.7,105.4 336.0,103.0 339.3,99.0 343.7,99.7 344.8,104.1 347.9,103.2 351.0,102.5 354.1,102.2 357.2,101.2 360.3,100.8 363.1,99.4 365.9,97.8 369.1,97.2 371.7,95.3 374.6,94.2 377.7,93.6 380.7,93.1 383.8,92.9 386.8,91.9 389.1,94.1 391.2,96.4 391.9,99.8 393.4,103.0 395.6,106.3 397.8,109.6 401.7,110.2 405.6,110.7 406.4,107.7 406.7,104.5 408.0,101.6 408.9,98.6 413.3,96.4 416.3,99.4 418.8,103.0 421.1,100.7 424.1,99.6 426.5,97.5 429.7,96.0 433.1,95.2 436.5,94.4 439.8,93.0 443.1,92.4 446.4,91.4 449.7,90.9 453.0,90.2 456.4,89.7 459.6,88.6 461.5,86.1 464.1,84.3 466.1,81.8 468.5,79.8M405.6,110.7 403.3,116.2 406.3,118.2 408.9,120.6 410.9,123.1 413.3,125.1 415.5,127.3M435.4,144.9 436.9,141.6 438.6,138.4 439.8,135.0 442.3,132.5 444.2,129.5 446.9,127.2 449.7,125.1 450.8,119.5 448.7,117.2 446.4,115.1 443.1,115.7 439.8,116.2 436.8,116.9 433.8,117.5 430.9,118.4 428.0,120.0 425.0,121.3 422.1,122.8 418.8,125.1 415.5,127.3 412.3,128.7 409.5,130.8 406.7,132.8 403.5,134.3 400.5,136.0 397.8,138.3 395.0,140.0 391.9,141.2 389.0,142.7 386.4,144.6 384.6,147.1 383.5,151.5 386.0,154.0 389.0,156.0 392.0,156.3 395.0,157.0 397.8,158.2 400.1,160.3 402.2,162.6 403.8,165.7 404.5,169.2 407.8,169.5 411.1,170.3 414.1,167.7 417.7,165.9 420.7,165.0 423.7,164.0 426.5,162.6 429.3,164.1 432.5,164.4 435.4,165.9 439.0,166.5 442.7,166.8 446.4,167.0 449.4,167.4 452.2,168.9 455.2,169.2 456.3,172.5 452.3,173.7 448.6,175.8M352.6,129.5 354.0,126.0 355.9,122.8 359.4,122.2 362.5,120.6 365.7,117.8 369.1,115.1 372.4,116.8 375.8,118.4 381.3,120.6 380.2,126.2 378.0,128.4 379.8,131.0 382.4,132.8 383.5,137.2 386.8,140.5 384.6,144.9 380.2,148.2 374.6,149.3 371.3,144.9 372.3,141.7 372.4,138.3 370.2,133.9 364.7,135.0 360.3,136.1 356.9,135.9 353.7,135.0 352.6,129.5M372.4,138.3 375.2,136.0 378.0,133.9 382.4,132.8M383.5,151.5 380.7,153.7 378.0,156.0 375.1,158.3 372.3,160.6 369.1,162.6 367.1,164.9 364.5,166.8 362.5,169.2 359.9,171.8 356.6,173.6 353.7,175.8M289.7,137.2 288.6,142.7 287.2,145.5 286.3,148.5 284.6,151.1 283.0,153.8 282.2,157.4 281.6,161.1 280.8,164.8 281.0,168.1 279.7,171.4 279.7,174.7 279.7,178.0M504.0,117.3 501.0,118.2 498.6,120.5 495.7,121.7 492.8,122.8 490.0,124.8 486.7,125.5 483.9,127.3 481.9,129.6 479.5,131.7 475.1,132.6 470.7,132.8 467.4,134.0 464.1,135.0 460.5,136.2 457.4,138.3 454.0,139.6 450.8,141.6 446.4,142.7M483.9,130.6 487.0,131.8 490.0,133.2 492.8,135.0 497.2,136.1 499.4,140.5 496.8,143.6 495.0,147.1 492.7,150.4 490.5,153.8 488.3,158.2 491.6,159.5 495.0,160.4 498.3,160.5 501.6,161.5M368.0,82.0 370.9,81.3M310.6,121.1 313.5,120.6M319.0,117.3 322.3,116.9M479.5,52.2 483.9,53.3M436.5,146.0 442.0,144.9 443.8,142.4 446.4,140.5M504.0,53.3 507.3,53.8 510.6,53.8 514.0,53.7 517.2,54.4 519.9,57.0 523.0,58.9 526.1,61.0 530.5,63.2 533.7,64.7 537.1,65.5 541.5,67.7 544.1,69.5 545.9,72.1 548.2,75.4 552.6,74.3 557.0,72.1 560.3,72.5 563.6,72.1 567.1,72.7 570.2,74.3 573.0,76.1 576.1,77.2 579.1,78.7 581.3,80.9M578.0,57.7 580.2,61.0 580.7,64.7 580.8,68.4 581.3,72.1 581.3,76.5 582.4,80.9 580.2,85.3 576.8,89.7 574.6,92.4M578.0,57.7 580.7,56.6 583.6,55.6 586.6,55.1 589.3,53.9 592.3,53.3 596.7,52.3 601.1,52.2 604.5,52.4 607.8,53.3 608.9,55.5M593.4,53.3 595.6,58.8 600.0,61.5 603.3,57.7 601.1,54.0M504.0,116.2 506.1,113.2 508.7,110.7 511.3,108.1 513.9,105.6 517.0,105.2 520.0,105.5 523.0,104.7 526.1,104.7 529.8,106.0 533.5,106.9 537.1,108.5 538.1,105.5 539.3,102.5 542.2,101.0 545.4,100.2 548.4,99.0 551.8,98.7 554.8,97.5 557.0,94.7 559.2,91.9 563.6,91.1 568.0,90.8 571.3,91.6 574.6,92.4M574.6,93.0 578.3,90.7 581.3,87.5 584.3,85.0 587.9,83.1 592.3,82.0 595.4,84.5 598.9,86.4 601.9,87.5 604.8,88.6 607.8,89.7 611.5,89.0 615.1,87.4 618.8,86.4 621.7,85.0 624.8,83.7 627.9,82.5 630.5,80.4 633.7,79.4 636.5,77.6 639.5,75.2 642.4,72.6 645.3,69.9 647.9,67.6 650.5,65.3 652.9,62.9 655.6,60.7 658.5,58.8 661.2,55.9 664.6,53.9 667.4,51.1M526.1,138.3 528.1,135.9 530.2,133.6 532.7,131.7 535.3,129.9 538.4,129.3 541.2,127.9 543.7,126.2 546.6,124.9 549.1,123.2 551.9,121.8 554.8,120.6 556.8,117.2 559.2,114.0 559.7,110.7 560.3,107.4 562.2,104.9 564.7,103.0 567.4,100.2 570.2,97.5 572.2,95.1 574.6,93.0M526.1,138.3 527.2,140.5 529.6,143.1 532.7,144.9 534.5,147.5 537.1,149.4 539.3,151.5 541.5,156.0 544.0,158.7 545.5,162.2 548.2,164.8 550.5,167.6 552.7,170.6 554.8,173.6 556.0,176.4 556.4,179.5 557.0,182.5 556.6,186.1 556.2,189.8 555.9,193.5M551.5,200.1 547.7,201.5 543.7,202.3 540.8,203.0 538.0,204.3 534.9,204.5 532.0,205.5 529.1,206.4 526.1,206.7 523.2,207.6 520.3,208.7 517.2,208.9 514.0,209.7 510.6,209.4M504.0,160.4 507.0,160.9 510.0,161.6 512.8,162.6 513.8,165.9 515.0,169.2 512.8,172.5 510.6,175.8 511.5,179.2 512.8,182.5 513.4,185.4 514.1,188.4 515.0,191.3 513.9,194.1 513.7,197.2 512.8,200.1 512.3,203.2 510.8,206.2 510.6,209.4M508.4,173.6 511.7,176.9 510.6,182.5 513.9,186.9M504.0,159.3 506.8,157.8 510.0,157.3 512.8,156.0 516.2,155.6 519.4,154.4 522.8,154.7 526.1,153.8 529.5,153.6 532.7,152.8 536.1,152.4 539.3,151.5M509.5,225.5 513.9,223.7 519.0,224.8 517.2,227.3 511.7,227.7 509.5,225.5M651.9,184.7 654.4,182.7 656.0,180.0 658.5,178.0 660.8,175.3 662.9,172.5 662.9,168.1 667.4,165.9 669.6,170.3 668.5,175.8 672.3,174.2 676.2,172.5 679.3,171.4 682.2,169.9 685.0,168.1 688.5,166.2 691.6,163.7 695.0,161.0 698.3,158.2 700.1,155.4 701.4,152.4 702.7,149.3 704.0,146.5 704.6,143.3 706.0,140.5 706.0,136.0 707.1,131.7 707.2,127.2 708.2,122.8 708.6,119.5 709.3,116.2 713.7,112.9 715.9,108.5 719.2,107.5 722.5,107.4 724.8,109.6 725.5,113.0 727.0,116.2 728.0,119.6 729.2,122.8 731.3,125.2 733.6,127.3 736.0,129.5M736.0,142.7 733.6,145.9 731.4,149.3 729.0,151.4 727.0,153.8 723.6,158.2 723.1,162.6 722.5,167.0 722.5,171.5 721.4,175.8 720.4,178.7 719.7,181.6 719.2,184.7 718.7,188.0 718.1,191.3 714.8,193.5 711.5,195.7 708.1,196.6 704.9,197.9 701.7,199.5 698.3,200.1 693.8,202.3M736.0,50.0 734.2,52.8 733.2,56.0 731.4,58.8 731.3,63.3 730.3,67.7 729.4,70.7 727.8,73.5 727.0,76.5 725.0,78.9 722.5,80.9 719.2,81.2 715.9,82.0 711.5,85.3 708.9,88.3 707.1,91.9 707.6,96.4 708.2,100.8 710.0,103.5 711.5,106.3 715.9,103.0M713.7,96.4 717.0,95.2 720.3,94.2 724.8,96.4 724.5,99.7 724.8,103.0 720.3,104.1 714.8,103.0M683.9,156.0 686.8,154.9 687.7,158.6 684.6,159.7 683.9,156.0M700.5,97.0 702.2,97.9M703.8,194.6 707.1,192.4 710.4,193.5 709.6,196.8 709.3,200.1 706.0,201.2 705.0,197.9 703.8,194.6M515.0,75.4 519.5,76.9M545.9,72.1 549.3,71.0M736.0,52.2 738.7,54.5 741.8,56.3 744.5,58.5 747.0,61.0 749.9,62.2 752.4,64.0 755.4,65.0 758.1,66.6 761.4,68.3 764.7,69.9 767.8,70.1 770.7,70.9 773.5,72.1 776.8,71.3 780.2,71.0 783.5,69.4M736.0,91.9 738.9,93.2 741.8,94.3 744.8,95.3 747.5,96.8 750.5,97.8 753.1,99.4 755.9,100.8 756.9,97.4 758.1,94.2 761.0,92.3 763.7,90.1 766.9,88.6 770.0,87.9 772.7,86.1 775.7,85.3 779.7,84.7 783.5,83.1M736.0,127.3 736.9,130.8 738.6,133.9 738.2,138.3 736.0,142.7M817.7,56.6 820.4,55.0 823.5,54.4 826.5,53.3 830.2,53.1 833.9,52.8 837.5,51.8M51.0,237.0 53.3,239.2 55.6,241.2 57.7,243.6 62.1,245.8 65.4,246.1 68.7,246.9 70.6,249.5 73.1,251.3 78.6,249.1 81.2,247.2 84.2,245.8 86.4,243.7 88.3,241.1 90.8,239.2 94.1,238.7 97.4,238.1 100.4,241.2 104.0,243.6 106.6,246.7 108.4,250.2 110.6,254.7 111.4,258.1 112.8,261.3 112.8,265.7 112.8,270.1 112.8,273.8 113.4,277.5 114.0,281.2 114.8,285.5 115.1,290.0 112.8,294.4 109.3,296.2 106.2,298.8 102.9,302.1M42.2,290.0 45.0,288.6 47.5,286.8 50.2,285.4 53.2,284.5 56.9,284.1 60.6,283.7 64.3,283.4 67.3,283.9 70.3,284.4 73.1,285.6 74.9,288.8 76.4,292.2 79.7,296.6 83.6,297.0 87.5,297.7 91.3,298.1 95.2,297.7 99.3,299.4 102.9,302.1M102.9,302.1 104.3,306.1 106.2,309.8 106.4,314.3 107.3,318.7 107.0,321.7 105.4,324.5 105.1,327.5 102.2,330.7 99.6,334.1 98.1,336.9 97.6,340.1 96.3,343.0 95.3,346.0 94.2,348.9 93.0,351.8 93.0,356.3 94.1,360.6 97.1,360.3 100.0,359.7M42.2,363.9 43.4,361.0 44.8,358.2 46.0,355.2 47.1,352.2 48.8,349.6 49.3,346.4 51.0,343.5 51.3,340.2 52.8,337.4 53.2,334.1 54.5,331.1 56.0,328.1 57.7,325.3 59.9,323.1 61.8,320.6 64.3,318.7 67.2,317.1 70.4,316.2 73.1,314.3 76.8,314.7 80.5,314.6 84.2,314.3 86.4,311.0 85.9,307.6 85.3,304.3 88.3,301.9 90.8,298.8 95.2,297.7M115.1,290.0 117.9,291.2 120.9,291.5 123.9,292.2 126.4,294.6 129.5,296.2 131.7,299.0 134.5,301.0 137.1,303.2 138.7,306.0 140.5,308.6 142.6,311.0 144.6,313.5 146.0,316.5 147.2,320.0 149.6,322.9 151.0,326.4 152.6,329.7 155.9,330.1 159.2,330.8 162.1,329.5 165.2,328.9 168.0,327.5 170.7,324.5 172.5,320.9 171.6,317.6 171.3,314.3 175.8,311.0 177.7,308.5 179.3,305.7 181.3,303.2 183.5,299.9 185.7,296.6M172.5,318.7 175.4,318.0 178.3,317.1 181.3,316.9 182.8,320.0M256.3,336.3 253.1,337.8 249.7,338.5 246.5,340.0 243.1,340.8 238.7,338.5 234.3,340.8 231.7,342.6 229.8,345.2 226.5,346.3 223.2,347.4 220.0,348.8 216.6,349.6M74.2,344.1 75.3,346.3M40.0,250.2 43.6,248.4 46.6,245.8 48.6,243.1 49.5,239.9 51.0,237.0M100.0,359.8 103.7,359.7 107.5,360.0 111.1,360.6 111.9,366.2 114.3,371.0 117.8,372.6 120.7,374.9 120.5,378.5 119.9,382.1 118.7,385.1 116.7,387.7 120.4,389.0 123.9,390.9 127.9,393.2 131.8,397.2 135.1,398.2 138.2,399.6 139.8,402.8 137.4,406.8 133.4,410.8 130.3,414.7 127.0,415.9 123.9,417.1 119.7,418.7 115.9,421.1 112.7,424.0M138.2,399.6 141.3,400.7 144.6,401.2 147.7,400.3 151.0,399.6 153.3,396.4 152.9,393.3 152.5,390.1 151.0,385.3 152.5,383.7M152.5,383.7 155.7,382.9 158.9,382.1 163.7,380.5 168.5,380.5 172.4,379.6 176.4,378.9 179.6,377.9 182.8,377.3 185.9,376.1 189.2,375.7 192.3,374.7 195.5,374.1 199.0,373.0 201.9,371.0 204.9,369.0 208.3,367.8 211.5,367.0 214.6,366.2 217.8,363.0 218.6,360.6M152.5,390.1 157.3,391.7 160.5,392.6 163.7,393.2 166.9,396.4 170.1,401.2 171.7,406.0 176.4,409.2 179.6,409.6 182.8,408.9 186.0,409.2 189.3,410.1 192.4,411.6 194.9,413.3 197.1,415.5 198.8,418.7 200.3,421.9M192.4,335.9 193.2,340.7 195.5,343.9 197.1,348.7 193.9,351.8 197.1,355.0 201.9,355.8 205.1,356.6 207.4,354.2 209.9,351.8 214.0,350.7 217.8,348.7 221.1,348.2 224.2,347.1 227.4,342.3 232.2,339.1 235.2,340.7 238.5,341.5 243.3,342.3 246.4,341.0 249.7,340.7 252.6,338.6 256.1,337.5M147.8,320.0 149.2,323.3 151.0,326.4 154.1,329.6 157.3,331.9 160.7,331.2 163.7,329.6 168.5,328.0 171.7,324.8 171.7,320.0M100.0,340.7 103.2,339.1 106.4,337.5 109.6,332.7 110.4,329.6 111.1,326.4 109.8,323.3 109.6,320.0M206.7,401.5 211.5,403.6 213.9,405.9 216.2,408.4 218.3,411.5 221.0,413.9 224.2,418.7 225.8,424.0M222.6,411.6 225.2,409.7 227.4,407.3 232.2,404.4 236.9,402.0 240.1,400.4M130.3,333.5 131.5,335.1 131.8,337.2M166.1,347.1 167.7,349.5M168.5,352.6 170.1,355.4M332.7,294.4 331.2,297.2 330.0,300.1 329.4,303.2 328.0,306.7 326.1,309.8 327.1,313.1 327.2,316.5 329.4,320.9 332.7,325.3 332.5,328.7 331.6,331.9 331.0,336.3 330.5,340.8 332.7,343.0M395.6,296.6 397.8,299.9 394.1,300.8 390.3,301.7 386.8,303.2 383.8,303.7 380.9,304.5 378.0,305.4 375.5,308.2 373.6,311.3 371.3,314.3 369.8,317.9 368.9,321.8 366.9,325.3 365.2,328.1 364.2,331.3 362.5,334.1 361.0,337.3 360.3,340.8 359.6,344.0 359.2,347.4 358.1,351.8M397.8,299.9 400.2,303.7 402.2,307.6 405.8,309.5 408.9,312.1 413.3,312.3 417.7,313.2 421.0,312.8 424.3,312.1M300.7,345.2 304.1,344.3 307.3,343.0 310.2,341.8 313.1,341.0 316.2,340.8 319.5,341.9 322.8,343.0 326.1,343.1 329.4,342.8 332.7,343.0 335.7,346.1 338.2,349.6 341.5,350.8 344.8,351.8 348.2,351.3 351.5,351.6 354.8,351.7 358.1,351.8 361.6,351.2 364.7,349.6 368.0,350.8 371.3,351.8 372.0,354.9 373.6,357.7 374.6,360.6 375.5,363.9 375.8,367.2 373.5,371.7M439.8,294.4 437.8,297.9 435.4,301.0 431.8,302.8 428.7,305.4 426.3,308.6 424.3,312.1 422.3,315.5 419.9,318.7 418.1,322.3 415.5,325.3 414.8,328.2 413.8,331.1 413.3,334.1 411.1,338.5 408.9,340.8 406.7,343.0 404.6,345.4 402.1,347.2 400.0,349.6 396.5,351.4 393.4,354.0 391.4,356.4 389.4,358.8 386.8,360.6 384.7,363.0 382.4,365.1 380.2,367.2 376.7,369.3 373.5,371.7 370.4,373.6 366.9,375.0 363.5,376.3 360.3,378.3 356.9,378.6 353.7,379.4 350.4,379.9 347.1,380.5 343.8,381.9 340.4,382.7 336.0,384.9 332.5,385.5 329.4,387.1 325.0,389.3 322.8,387.1 318.4,389.3 316.2,391.5 312.9,392.8 309.5,393.7 305.1,395.9 301.8,395.6 298.5,395.9 294.1,398.1 289.7,400.4 286.4,401.2 283.0,401.5 278.6,400.4 275.4,401.2 272.0,401.5M325.0,389.3 324.7,384.9 323.9,380.5 321.7,376.1 318.4,378.3 319.1,381.6 319.5,384.9M294.1,334.1 292.9,337.0 292.6,340.0 291.9,343.0 289.7,347.4 294.1,345.2 296.5,347.1 298.5,349.6 299.9,352.8 300.7,356.2 299.7,359.5 298.5,362.8 296.1,366.0 294.1,369.5 291.9,373.9 294.1,378.3 291.5,381.3 289.7,384.9 287.7,387.4 285.2,389.3 280.8,391.5M300.7,345.2 298.5,349.6M422.1,378.3 420.9,375.0 419.9,371.7 420.1,368.3 421.0,365.0 423.3,362.4 424.4,358.9 426.5,356.2 428.4,353.6 430.6,351.4 433.1,349.6 436.4,346.7 439.8,344.1 443.0,345.0 446.4,345.2 447.5,347.4 446.0,350.9 445.0,354.7 444.2,358.4 442.9,362.0 442.2,365.7 442.0,369.5 441.4,372.4 440.8,375.4 439.8,378.3 437.9,381.0 436.6,384.0 435.4,387.1 433.5,389.7 430.9,391.5 428.9,389.2 426.5,387.1 424.3,382.7 422.1,378.3M471.8,357.3 475.1,355.8 478.4,356.6 481.7,354.4M494.5,349.1 497.6,350.7M411.5,366.8 413.3,368.1M440.2,388.9 441.5,389.8M274.2,369.5 277.9,369.3 281.6,369.3 285.2,369.5 289.7,369.3 294.1,369.5M338.2,362.8 340.4,365.0M569.1,269.0 570.9,267.9 572.4,269.7 570.7,271.0 569.1,269.0M576.4,270.1 578.0,264.6M578.6,267.9 576.4,270.1M552.6,301.0 555.7,298.3 559.2,296.2 558.4,299.7 556.5,302.8 552.6,301.0M547.7,306.8 549.0,308.1M529.4,331.5 532.7,327.5 536.0,324.9 539.3,320.9M42.2,430.6 43.5,433.9 44.4,437.2 45.3,440.1 45.4,443.3 46.6,446.1 47.6,449.3 47.2,452.8 48.6,456.0 48.8,459.3 48.2,462.7 46.8,465.9 46.0,469.2 45.5,472.6 44.4,478.1 47.7,479.1 51.0,480.3 54.4,480.4 57.7,481.4 62.1,479.2 65.4,477.0 68.7,474.8 71.9,472.4 75.3,470.4 78.9,468.5 81.9,465.9 82.7,462.5 84.2,459.3M84.2,459.3 86.5,462.2 88.2,465.5 90.8,468.2 92.4,471.3 93.1,474.7 93.8,478.2 95.2,481.4 95.5,484.8 96.8,487.9 97.3,491.2 97.4,494.6 98.7,497.8 98.6,501.4 100.1,504.5 100.7,507.9 101.6,510.9 102.5,513.9 104.0,516.7 104.9,519.6 105.7,522.5 106.2,525.5 106.5,528.6 107.6,531.5 108.4,534.4 108.0,537.4 106.7,540.2 106.2,543.2 105.9,546.5 105.4,549.9 105.1,553.2 104.0,556.5 103.5,559.7 103.0,563.0 103.0,566.4 102.9,569.7 102.7,573.0 104.0,576.3 104.0,579.6 104.0,582.9 104.8,585.9 105.0,588.9 106.2,591.8 108.1,594.3 110.7,596.1 112.8,598.4 115.2,600.4 117.3,602.8 119.5,605.0 121.7,608.0 123.9,611.0M93.0,441.7 93.1,446.1 94.1,450.5 95.8,453.7 96.5,457.2 98.0,460.5 99.6,463.7 101.5,466.9 103.8,469.8 106.2,472.6 110.6,474.8 110.0,478.1 109.5,481.4 106.9,484.8 104.0,488.0 104.2,491.3 104.0,494.6 106.3,497.5 108.2,500.7 110.6,503.5 112.5,506.2 113.9,509.2 115.1,512.3 115.9,515.7 117.5,518.8 118.8,522.1 119.5,525.5 120.5,528.8 120.5,532.2 121.3,535.4 121.7,538.8M97.4,424.0 95.2,428.4 93.2,431.1 91.9,434.1 90.8,437.2 93.0,441.7M141.5,424.0 141.8,427.1 143.3,429.8 143.8,432.8 144.2,436.1 144.2,439.5 143.8,442.8 143.8,446.1 142.8,449.0 142.3,452.0 141.5,454.9 144.8,453.5 148.1,452.6 151.5,451.7 154.8,450.5 157.8,449.2 160.8,447.8 163.6,446.1 168.1,445.9 172.5,445.0 176.9,442.8 179.7,444.0 182.9,444.6 185.7,446.1 188.4,448.6 191.7,450.3 194.5,452.7 196.1,456.0 197.8,459.3 198.5,463.7 198.9,468.2 200.2,471.2 202.2,473.9 203.4,477.0 205.1,479.8 206.5,482.7 207.8,485.8 210.3,488.9 212.2,492.4 212.5,496.2 213.6,499.8 214.4,503.5M163.6,512.3 165.7,508.9 168.0,505.7 172.5,502.4 176.1,501.9 179.9,502.2 183.5,501.3 187.2,500.9 190.8,500.2 194.5,500.2 198.9,501.0 203.4,501.3 207.7,502.0 212.2,502.4 214.4,503.5M163.6,512.3 162.5,515.5 162.5,518.9 163.5,523.3 163.6,527.8 165.9,531.0 168.0,534.4 170.0,536.8 172.5,538.8M121.7,538.8 122.8,535.9 123.6,533.0 123.9,530.0 124.9,526.1 126.6,522.5 128.3,518.9 128.3,515.6 131.5,514.6 134.9,514.5 138.3,514.7 141.5,515.6 141.0,518.9 141.5,522.2 141.5,525.5 144.8,526.6 148.2,526.5 151.4,527.6 154.8,527.8 158.1,529.9 161.4,532.2 163.8,534.2 165.6,536.8 168.0,538.8 169.1,542.0 171.4,544.5 172.5,547.6 174.6,549.9 176.8,552.1 179.3,554.0 181.3,556.5 183.6,558.6 185.7,560.9 188.5,559.7 191.5,559.1 194.5,558.7 197.0,561.8 198.9,565.3 198.6,568.8 198.3,572.3 198.6,575.9 198.6,579.4 197.8,582.9 203.4,582.9 206.0,581.1 209.0,579.8 211.5,577.7 214.4,576.3 216.5,574.0 218.6,571.7 221.2,569.9 223.2,567.5 224.7,564.6 225.7,561.4 227.6,558.7M121.7,538.8 121.4,541.8 120.3,544.7 119.4,547.6 118.6,550.5 118.4,553.6 117.3,556.5 117.6,560.0 117.0,563.5 117.4,567.0 117.5,570.6 117.3,574.1 120.7,576.1 123.9,578.5 124.9,582.4 127.0,585.8 128.3,589.6 129.9,592.4 131.7,595.0 133.3,597.8 134.9,600.6 135.3,604.1 135.9,607.6 137.1,611.0M214.4,503.5 215.3,506.4 216.2,509.3 216.6,512.3 216.0,516.0 216.2,519.7 215.5,523.3 216.6,527.7 216.6,532.2 213.0,534.0 210.0,536.6 206.7,537.8 203.4,538.8 201.1,543.2 202.3,546.3 204.2,549.0 205.6,552.0 207.5,554.5 210.0,556.5 213.3,555.3 216.6,554.2M181.3,518.9 185.7,517.8 188.2,520.3 190.1,523.3 192.8,526.4 194.5,530.0 196.7,534.4 192.3,532.2 190.2,529.9 188.0,527.6 185.7,525.5 182.4,522.2 181.3,518.9M194.5,530.0 195.6,533.1 197.9,535.6 198.9,538.8 200.3,542.5 202.0,546.1 203.4,549.8 204.8,553.5 206.7,557.0 207.8,560.9 210.2,563.7 212.2,566.8 214.4,569.7 217.4,572.3 221.0,574.1M249.7,479.2 251.7,481.7 253.0,484.7 254.4,487.6 256.3,490.2 257.0,493.7 258.9,496.7 260.0,500.0 260.8,503.5 260.8,506.9 261.3,510.2 262.4,513.4 263.0,516.7 263.8,520.3 263.2,524.1 264.1,527.8 263.1,531.5 261.4,535.0 260.8,538.8 258.4,542.0 256.3,545.4 253.2,547.3 250.7,550.1 247.5,552.0 244.4,553.2 241.8,555.3 238.7,556.5 235.8,557.3 232.7,557.6 229.8,558.7 226.4,559.4 223.2,560.9 221.0,565.3 219.1,568.4 216.8,571.4 214.4,574.1 211.5,576.4 208.5,578.5 205.6,580.7 202.3,582.5 198.9,584.0M229.8,470.4 232.4,473.4 234.3,477.0 235.3,479.9 235.5,482.9 236.5,485.8 236.4,489.5 237.7,493.1 237.6,496.8 234.3,499.1 230.9,499.5 227.6,500.2 223.9,500.2 220.3,501.4 216.6,501.3 214.4,503.5M237.6,496.8 236.8,500.5 237.3,504.2 236.5,507.9 237.1,510.9 237.9,513.8 238.7,516.7 237.8,519.6 237.4,522.7 236.5,525.5 234.3,528.9 232.1,532.2 229.1,532.8 226.2,533.7 223.2,534.4 219.9,535.3 216.6,536.6 214.4,541.0 213.3,544.3 212.2,547.6 214.4,552.0M251.9,430.6 254.6,428.4 257.4,426.2 260.8,424.0M254.1,437.2 256.7,439.1 258.5,441.8 260.8,443.9 263.7,444.6 266.7,445.1 269.6,446.1 272.0,445.0M163.6,467.0 165.8,468.2M127.2,569.7 129.4,571.9M99.6,530.0 101.8,534.4M104.0,538.8 106.2,541.0M100.7,552.0 102.9,554.2M378.0,589.6 380.4,586.4 382.4,582.9 384.8,581.0 386.8,578.5 389.0,576.3 391.0,573.9 393.4,571.9 395.6,569.7 397.5,567.2 399.7,565.0 402.2,563.1 404.4,560.8 406.3,558.3 408.9,556.5 411.0,554.2 413.3,552.0 415.5,547.6 414.4,550.9 413.3,554.2 411.5,557.8 408.9,560.9 406.6,563.0 404.8,565.6 402.2,567.5 399.9,569.5 397.6,571.7 395.6,574.1 393.4,576.3 391.6,578.9 389.0,580.7 386.8,582.9 384.7,585.2 382.4,587.4 378.0,589.6M422.1,531.7 424.3,535.5 419.9,537.7 417.7,532.2M410.0,545.4 413.3,545.0 412.8,548.3 413.3,551.6 410.6,550.9 410.0,545.4M446.4,538.8 449.6,537.3 453.0,536.6 456.2,538.1 459.6,538.8 461.5,541.4 464.1,543.2 463.1,546.1 462.2,549.0 461.8,552.0 459.9,554.5 457.4,556.5 454.0,557.1 450.8,558.7 446.4,556.5 446.4,552.0 446.4,547.6 446.9,543.2 446.4,538.8M453.0,565.3 456.6,563.5 459.6,560.9 461.6,558.4 464.1,556.5 464.5,560.2 465.1,563.9 466.3,567.5 466.0,570.5 464.9,573.4 464.1,576.3 459.6,578.5 457.6,576.1 455.2,574.1 454.1,571.3 454.2,568.1 453.0,565.3M466.3,565.3 467.5,561.5 469.5,558.1 470.7,554.2 472.6,550.7 475.1,547.6 474.5,550.9 473.5,554.2 473.8,557.6 472.9,560.9 472.0,564.3 470.7,567.5 469.8,570.9 468.5,574.1 467.2,571.3 466.7,568.3 466.3,565.3M475.1,567.5 478.3,566.0 481.7,565.3 485.0,569.7 479.5,571.9 477.6,569.4 475.1,567.5M497.2,532.2 498.1,535.2 499.0,538.2 500.5,541.0 499.1,544.5 497.2,547.6 494.7,549.6 492.8,552.0 492.4,555.1 491.2,557.9 490.5,560.9 488.4,558.6 486.1,556.5 485.2,553.5 485.1,550.5 483.9,547.6 483.2,544.7 482.5,541.7 481.7,538.8 482.1,535.1 481.3,531.4 481.7,527.8M472.9,530.0 471.3,533.1 470.7,536.6 466.3,534.4 466.4,531.1 466.3,527.8M446.4,611.0 447.0,607.5 448.2,604.1 448.6,600.6 450.6,598.2 453.4,596.6 455.2,594.0 458.2,593.3 461.1,592.4 464.1,591.8 467.5,589.8 470.7,587.4 474.0,589.5 477.3,591.8 478.4,594.6 478.5,597.7 479.5,600.6 481.4,598.0 483.9,596.2 487.4,594.3 490.5,591.8 493.7,589.3 497.2,587.4 500.7,585.3 504.0,582.9M449.7,527.8 448.6,531.0 448.6,534.4M374.6,594.0 375.8,596.2M373.5,605.0 378.0,607.2M272.0,442.8 276.4,439.5 278.7,437.3 280.8,435.0 283.2,431.8 285.2,428.4 287.5,424.0M499.4,605.0 501.5,602.7 504.0,600.6M504.0,565.3 506.6,568.6 506.4,572.6 505.1,576.3 507.2,579.4 508.4,582.9 509.5,585.8 509.8,588.9 510.6,591.8 511.6,594.7 512.4,597.7 513.3,600.6 512.1,603.8 511.7,607.2 508.4,611.0M628.9,599.5 630.7,598.4 631.2,602.8 629.4,603.9 628.9,599.5M59.9,625.3 58.8,629.8 60.8,633.5 62.1,637.5 64.5,640.1 66.4,643.1 69.1,645.4 70.9,648.5 74.2,650.7 76.9,653.6 79.7,656.3 82.9,658.1 85.7,660.5 88.6,662.9 91.0,666.6 93.0,670.6 95.1,672.9 97.3,675.1 99.6,677.2 103.1,679.2 106.2,681.6 108.3,683.9 110.6,686.1 111.8,689.4 113.2,692.6 113.5,696.1 115.1,699.3 116.4,702.5 117.3,705.9 119.7,707.9 122.0,710.0 123.9,712.5 125.4,715.4 126.8,718.3 128.6,721.0 130.5,723.6 132.3,726.3 134.0,729.0 135.9,731.6 137.1,734.6 139.2,737.7 141.5,740.5 143.8,743.5 146.1,746.1 148.0,749.1 150.4,751.7 152.6,754.5 154.5,757.0 156.8,759.1 159.4,760.9 161.1,763.6 163.6,765.5 166.2,767.4 168.0,770.0 170.3,772.1 172.7,774.2 175.0,776.2 176.9,778.8 179.4,781.2 182.7,782.8 185.1,785.4 187.9,787.6 192.3,790.9M59.9,625.3 62.1,628.7 65.6,630.2 69.5,630.5 73.1,632.0 76.8,632.0 80.5,632.8 84.2,633.1 88.6,633.6 93.0,634.2 95.1,637.0 97.4,639.7 98.2,643.1 99.6,646.3 102.1,648.3 104.0,650.7 107.1,652.4 110.0,654.2 112.8,656.3 116.1,658.5 118.5,661.7 121.7,664.0 123.7,666.4 125.9,668.6 128.3,670.6 131.9,672.4 134.9,675.0 138.0,677.5 141.5,679.4 144.7,681.9 148.2,683.8 151.5,686.0 154.8,688.3 157.6,690.7 160.7,692.6 163.6,694.9 166.7,696.9 169.8,699.0 172.5,701.5 174.9,704.7 176.9,708.1 177.4,712.5 176.9,717.0 179.2,719.0 181.3,721.4 184.5,722.7 187.9,723.6 189.2,726.6 190.5,729.6 192.3,732.4 193.2,735.8 194.5,739.0 196.9,742.2 198.9,745.7 201.9,746.5 204.8,747.1 207.8,747.9 210.9,750.3 214.4,752.3 216.6,756.7 215.8,759.6 215.4,762.6 214.4,765.5 214.0,768.8 213.3,772.1 213.9,775.5 213.3,778.8 212.6,781.8 213.3,784.9 212.7,787.9 212.2,790.9M123.9,611.0 127.2,615.4 129.1,618.6 130.5,622.0 131.4,625.4 132.7,628.7 133.0,631.7 133.9,634.6 134.9,637.5 135.8,641.1 136.0,644.9 137.1,648.5 139.5,651.7 141.5,655.2 143.3,658.7 144.1,662.7 146.0,666.2 148.0,669.6 150.4,672.8 153.6,675.2 157.0,677.2 160.2,679.6 163.6,681.6 166.3,683.6 169.5,684.6 172.5,686.1 175.6,688.0 179.1,689.4 182.3,690.1 185.7,690.5 190.1,688.3 189.4,684.8 187.9,681.6 185.6,678.4 183.5,675.0 183.0,672.0 182.1,669.1 181.3,666.2 180.3,662.5 179.5,658.9 179.1,655.2 178.8,651.5 177.9,647.8 178.0,644.1 177.3,641.0 175.4,638.4 174.7,635.3 172.1,633.4 169.9,631.2 168.0,628.7 166.2,626.1 163.5,624.4 161.4,622.0 157.9,620.2 154.8,617.6 151.2,615.8 148.2,613.2 143.8,611.0M128.3,615.4 132.2,616.4 135.6,618.6 139.3,619.8 141.4,623.8 143.8,627.6 147.5,627.4 151.1,627.1 154.8,626.5 157.0,622.0M66.5,669.5 70.9,670.6 74.0,673.0 76.4,676.1 73.1,677.2 69.9,674.9 66.5,672.8 66.5,669.5M87.5,678.3 89.7,679.9M86.4,689.4 89.6,688.7 93.0,688.3 94.9,691.8 97.4,694.9 96.0,698.1 95.2,701.5 90.8,699.3 88.9,695.8 86.4,692.7 86.4,689.4M108.4,724.7 112.8,723.6 114.8,727.1 115.4,731.1 117.3,734.6 115.1,736.8 113.2,734.3 110.6,732.4 110.0,728.4 108.4,724.7M121.7,741.2 123.9,743.9M128.3,747.9 130.8,749.8 132.7,752.3 134.1,755.5 134.9,758.9 130.5,756.7 129.4,753.9 128.5,750.9 128.3,747.9M106.2,669.5 110.6,668.8 112.0,672.1 114.0,675.0 110.6,676.1 108.7,672.6 106.2,669.5M148.2,681.6 151.4,682.9 154.8,683.8 152.6,687.2 149.3,686.1 148.2,681.6M159.2,690.5 162.4,691.9 165.8,692.7 168.0,698.2 163.6,699.3 160.3,694.9 159.2,690.5M168.0,694.9 170.9,696.5 174.0,697.6 176.9,699.3 179.1,703.7 175.6,705.6 171.9,707.1 168.0,708.1M185.7,693.8 190.1,694.1 194.5,693.8 196.7,698.2 193.5,699.1 190.1,699.3 187.7,696.7 185.7,693.8M192.3,708.1 195.7,710.3 198.9,712.5 197.2,716.1 194.5,719.2 191.2,717.0 191.5,712.5 192.3,708.1M203.4,739.0 206.2,737.0 209.4,735.6 212.2,733.5 214.5,736.2 216.6,739.0 216.8,742.3 216.6,745.7 219.3,747.6 222.5,748.6 225.4,750.1 227.6,753.4 224.3,753.6 221.0,754.5 217.8,752.2 214.4,750.1 211.8,748.2 209.9,745.7 207.8,743.5 205.5,741.3 203.4,739.0M236.5,752.3 238.9,750.3 240.9,747.9 244.2,748.3 247.5,749.0 248.6,754.5 245.7,756.0 243.1,757.8 238.7,756.7 236.5,752.3M272.0,679.4 267.4,681.6 264.0,683.8 260.8,686.1 259.9,689.1 258.2,691.8 257.4,694.9 258.4,699.2 258.5,703.7 258.9,707.5 260.4,711.0 260.8,714.8 262.4,717.9 263.0,721.4 265.4,724.5 267.4,728.0 272.0,730.2M243.1,650.7 248.6,649.6 250.8,655.2 246.4,657.4 245.0,653.9 243.1,650.7M211.1,667.3 213.3,668.8M217.7,664.0 219.9,665.3M255.2,667.3 257.4,668.8M187.9,669.5 189.2,670.8M256.3,733.5 258.5,734.2M159.2,787.6 161.4,788.9M123.9,614.3 127.2,613.2 128.3,616.5M272.0,686.1 275.2,687.1 278.6,687.2 281.7,687.4 284.5,688.6 287.5,689.4 288.5,685.5 289.7,681.6 291.1,678.4 291.9,675.0 294.1,670.6 297.7,669.2 301.4,668.4 305.1,667.3 308.7,666.0 312.6,665.4 316.2,664.0 318.9,661.6 322.3,660.0 325.0,657.4 327.0,654.3 329.1,651.3 331.6,648.5 332.7,644.1 338.2,641.9 341.6,640.4 344.8,638.6 349.3,635.3 351.5,633.1 353.7,630.9 355.5,627.3 358.1,624.2 360.4,622.1 362.2,619.5 364.7,617.6 367.1,615.6 369.1,613.2 371.3,611.0 374.6,611.2 378.0,611.0 379.9,613.4 382.4,615.4 384.5,618.8 386.8,622.0 390.2,624.1 393.4,626.5 396.8,628.0 400.0,629.8 403.4,631.3 406.7,633.1 404.5,637.5 401.1,637.6 397.8,638.6 393.4,639.7 395.6,644.1 395.6,646.3 392.5,647.9 389.0,648.5 384.6,650.7 382.4,655.2 382.5,658.5 383.5,661.8 385.6,664.9 386.8,668.4 387.8,671.3 388.5,674.2 389.0,677.2 389.7,680.7 391.2,683.8 393.4,687.2 395.6,690.5 399.0,692.6 402.2,694.9 400.0,698.2 395.6,697.8 391.2,698.2 386.8,701.5 386.0,704.9 384.6,708.1 383.5,711.5 382.4,714.8 382.3,718.1 382.4,721.4 380.0,723.4 378.0,725.8 375.6,727.8 373.5,730.2 371.2,732.3 369.1,734.6 368.6,737.6 367.8,740.6 366.9,743.5 366.6,747.2 365.1,750.7 364.7,754.5 364.0,758.9 363.6,763.3 360.3,765.5 357.3,766.0 354.5,767.3 351.5,767.7 348.2,768.5 344.8,768.9 341.5,769.9 341.1,766.6 340.4,763.3 337.0,762.6 333.8,761.1 330.9,760.0 328.1,758.5 325.0,757.8 321.9,757.0 319.0,755.9 316.2,754.5 312.4,754.0 308.8,752.8 305.1,752.3 301.6,754.2 298.5,756.7 296.0,754.8 294.1,752.3 289.7,752.7 285.2,752.3 281.8,751.4 278.6,750.1 276.3,746.9 274.2,743.5 272.0,739.0M272.0,692.7 274.9,693.8 278.0,694.5 280.8,696.0 284.1,695.0 287.4,694.0 290.9,694.0 294.1,692.7 297.8,691.8 301.3,690.1 305.1,689.4 308.8,689.5 312.4,688.2 316.2,688.3 319.1,688.9 321.9,690.3 325.0,690.5 328.3,690.2 331.6,689.4 335.0,689.1 338.2,688.3 340.4,686.0 342.6,683.8 343.4,680.4 344.8,677.2 346.1,674.0 347.1,670.6 348.9,667.1 351.5,664.0 352.3,660.6 353.7,657.4 354.1,654.0 354.8,650.7 358.1,647.4 361.4,646.9 364.7,647.4 368.0,647.3 371.3,647.4 374.6,648.3 378.0,648.5 382.4,650.7M338.2,641.9 342.6,639.7 343.5,643.1 344.8,646.3 342.6,648.5 340.4,650.7 336.0,648.5M272.0,725.8 272.4,729.1 273.1,732.4 272.6,735.7 272.0,739.0M302.5,697.8 304.2,698.9M364.3,715.2 367.4,713.9M360.3,754.5 364.7,756.7 364.6,761.2 363.6,765.5 361.4,767.7 361.2,764.4 360.7,761.1 360.8,757.8 360.3,754.5M417.7,697.1 422.1,694.9 425.3,693.8 428.0,691.9 430.9,690.5 435.3,691.1 439.8,691.6 442.6,692.9 445.7,693.7 448.6,694.9 452.3,695.0 455.9,695.9 459.6,696.0 463.4,696.0 467.0,695.6 470.7,694.9 474.4,694.4 478.1,693.8 481.7,692.7 484.8,690.6 487.7,688.4 490.5,686.1 492.8,688.3 491.7,691.6 490.5,694.9 488.5,697.2 486.1,699.3 482.8,700.3 479.5,701.5 476.7,702.7 473.6,703.1 470.7,703.7 467.0,703.8 463.3,704.2 459.6,704.8 456.0,704.3 452.3,704.4 448.6,703.7 444.2,703.8 439.8,703.7 436.8,703.0 433.9,702.1 430.9,701.5 427.7,702.7 424.3,703.7 422.0,705.8 419.9,708.1 418.4,711.3 417.7,714.8 419.1,718.0 419.9,721.4 422.0,723.7 424.1,726.0 426.5,728.0 430.9,730.2 433.8,728.6 436.8,727.3 439.8,725.8 442.8,725.6 445.5,723.8 448.6,723.6 451.6,722.9 454.4,721.7 457.4,721.4 460.4,720.9 463.4,720.4 466.3,719.2 468.5,723.6 464.1,725.8 460.7,726.9 457.4,728.0 453.0,730.2 449.8,731.7 446.4,732.4 444.1,735.1 442.0,737.9 439.8,743.5 441.9,745.7 444.2,747.9 446.2,750.2 448.6,752.3 450.8,754.5 453.0,756.7 453.6,759.7 454.1,762.7 455.2,765.5 457.4,769.9 460.7,770.0 464.1,769.9 464.9,772.9 465.0,775.9 466.3,778.8 464.3,782.3 461.8,785.4 457.4,787.6 454.2,786.3 450.8,785.4 447.4,783.3 444.2,781.0 442.2,777.5 439.8,774.4 437.2,771.3 435.4,767.7 433.1,763.3 432.5,759.8 430.9,756.7 430.9,752.3 426.5,750.1 424.3,754.5 424.5,757.6 424.8,760.7 424.6,763.8 424.4,766.8 424.3,769.9 425.6,773.5 425.9,777.3 426.5,781.0 426.6,785.4 426.5,789.8 422.1,792.0 417.7,791.8 413.3,792.0 410.0,787.6 409.3,783.2 408.9,778.8 407.5,775.5 406.4,772.2 405.8,768.8 404.5,765.5 404.2,761.8 403.0,758.2 402.2,754.5 400.0,750.1 401.2,746.3 403.3,742.8 404.5,739.0 405.4,735.7 406.4,732.3 407.4,729.0 408.9,725.8 410.6,723.0 412.1,720.1 413.3,717.0 414.2,714.1 414.7,711.1 415.5,708.1 416.7,704.8 417.7,701.5 417.7,697.1M459.6,730.2 462.9,729.9 466.3,730.2 468.1,732.8 470.7,734.6 466.3,736.8 461.8,734.6 459.6,730.2M453.0,774.4 456.3,773.1 459.6,772.1 461.7,775.5 464.1,778.8 463.0,781.6 462.2,784.6 461.8,787.6 458.5,787.6 455.2,787.6 453.4,784.4 451.9,781.0 452.5,777.7 453.0,774.4M444.2,785.4 447.5,784.3 448.6,788.7 445.3,789.8 444.2,785.4M481.7,734.6 485.1,734.8 488.3,735.7 492.7,736.6 497.2,736.8 500.6,737.2 504.0,737.9 501.6,739.5 497.9,738.9 494.2,739.4 490.5,739.0 487.2,739.2 483.9,739.0 481.7,734.6M475.1,611.0 476.8,613.8 478.1,616.9 479.5,619.8 482.6,621.0 485.6,622.3 488.3,624.2 491.5,626.1 495.0,627.6 499.4,624.2 500.2,620.9 501.6,617.6 500.2,614.4 499.4,611.0M445.3,613.6 449.7,612.8 451.9,615.4 447.5,617.2 445.3,613.6M430.9,623.1 434.3,623.5 437.6,624.2M416.6,635.7 422.1,633.7M410.6,639.7 411.5,641.5M497.2,657.4 499.4,660.0M496.7,670.2 497.6,671.0M443.1,717.0 448.6,714.8M426.5,737.9 427.6,739.0M437.6,749.0 440.9,752.3M526.1,699.3 526.6,696.0 527.1,692.7 527.9,689.4 528.3,686.1 530.6,682.8 532.7,679.4 536.0,678.3 537.1,683.8 536.2,687.2 534.9,690.5 539.3,688.3 544.8,688.3 545.9,692.7 543.4,694.6 541.5,697.1 539.3,701.5 542.4,704.0 545.9,705.9 542.5,705.3 539.3,703.7 533.8,705.9 532.9,710.3 532.7,714.8 534.5,718.3 537.1,721.4 539.3,723.6 534.9,721.4 532.9,718.9 530.5,717.0 529.5,712.6 529.4,708.1 528.1,704.7 526.1,701.5 526.1,699.3M538.2,673.9 542.6,672.8 544.8,676.1 543.1,678.8 541.5,681.6 538.2,679.4 538.2,673.9M515.0,646.3 517.2,648.5 516.1,654.0M508.4,611.0 508.4,614.4 507.3,617.6M554.8,711.4 557.0,713.6M561.0,727.6 562.3,728.4M521.7,714.8 526.1,714.3 530.5,717.0 532.7,721.4 528.3,722.5 523.9,722.5 523.2,718.5 521.7,714.8M526.1,729.1 530.5,728.0 533.2,729.8 536.0,731.3 537.1,734.6 532.7,735.4 528.3,735.7 526.8,732.6 526.1,729.1M568.0,712.5 571.2,711.1 574.6,710.3 578.6,711.2 582.4,712.5 581.3,717.0 576.8,717.2 572.4,718.1 570.1,715.4 568.0,712.5M560.3,736.8 564.1,735.9 568.0,735.7 570.2,739.0 566.8,739.1 563.6,740.1 560.3,736.8M528.3,757.8 531.4,756.2 534.0,753.8 537.1,752.3 540.8,752.7 544.5,752.4 548.2,752.3 552.6,752.0 557.0,751.2 560.2,752.5 563.6,753.4 566.8,754.9 570.2,755.6 574.6,758.9 574.9,762.3 575.7,765.5 570.2,764.4 567.1,762.4 563.6,761.1 559.1,760.9 554.8,760.0 550.3,760.3 545.9,761.1 542.6,762.2 539.3,763.3 534.9,764.4 530.5,761.1 528.3,757.8M506.2,756.7 509.6,755.8 512.8,754.5 515.8,755.2 518.6,756.4 521.7,756.7 525.0,761.1 522.2,763.3 519.5,765.5 515.0,765.8 510.6,765.5 508.2,763.5 506.2,761.1 506.2,756.7M570.2,723.6 573.4,722.1 576.8,721.4 581.3,720.8 585.7,720.3 588.5,718.7 591.6,718.0 594.5,717.0 597.8,716.0 601.1,715.9 604.8,717.0 608.5,718.1 612.2,719.2 615.5,719.8 618.8,720.3 621.3,722.3 624.3,723.6 625.4,726.8 625.4,730.2 624.5,733.5 624.3,736.8 625.4,739.8 626.5,742.7 627.6,745.7 629.7,749.1 632.0,752.3 634.0,755.3 636.5,757.8 640.9,758.9 644.1,756.6 647.5,754.5 649.6,752.2 651.9,750.1 654.5,748.2 656.0,745.3 658.5,743.5 661.9,741.4 665.1,739.0 668.5,737.0 671.8,734.6 674.8,732.5 678.4,731.3 681.7,733.1 685.0,734.6 687.9,736.3 690.7,738.0 693.8,739.0 696.9,740.0 699.5,741.7 702.7,742.3 705.6,743.1 708.6,743.8 711.5,744.6 714.3,745.7 717.5,745.5 720.3,746.8 723.4,747.9 726.6,748.7 729.8,749.2 732.8,750.7 736.0,751.2M570.2,723.6 572.6,726.8 574.6,730.2 578.0,730.7 581.3,731.3 584.6,732.4 587.9,733.5 592.3,736.8 594.3,739.2 596.7,741.2 600.1,742.0 603.3,743.5 607.8,743.4 612.2,743.5 615.5,742.8 618.8,742.3 621.0,745.7 616.6,749.0 612.2,752.3 609.2,753.0 606.2,753.4 603.3,754.5 600.0,753.6 596.7,752.3 592.3,750.1 594.5,754.5 597.6,757.0 601.1,758.9 603.4,762.2 605.5,765.5 607.8,769.9 612.2,772.1 614.4,769.9 616.6,767.7 618.8,765.5 621.0,761.1 618.8,756.7 616.6,754.5M616.6,761.1 620.0,763.1 623.2,765.5 626.5,766.6 629.8,767.7 633.1,768.8 636.5,768.8 640.1,770.5 643.7,772.1 647.5,773.3 651.2,774.6 654.9,776.0 658.5,777.7 662.3,778.9 665.8,780.7 669.6,782.1 672.2,784.1 674.9,786.2 678.1,787.5 680.6,789.8M643.1,734.6 647.5,735.4 651.9,735.7 655.5,736.5 659.3,736.5 662.9,736.8 658.5,737.9 655.2,738.1 651.9,737.6 648.5,737.6 645.3,736.8 643.1,734.6M642.0,720.3 647.5,720.3 651.0,722.2 654.1,724.7 656.3,726.9 653.0,726.4 649.7,726.9 647.2,724.6 644.7,722.3 642.0,720.3M723.6,749.0 723.3,752.0 723.2,755.1 723.5,758.2 723.5,761.3 723.5,764.3 723.4,767.4 723.5,770.5 723.4,773.6 724.0,776.6 723.5,779.7 723.7,782.8 723.4,785.9 724.1,788.9 723.6,792.0M633.8,725.3 635.1,726.2M678.4,737.5 679.5,738.4M654.8,766.2 655.9,767.3M607.8,789.4 609.1,790.2M629.4,789.4 630.7,790.2M504.0,737.9 508.4,736.8 508.2,740.2 507.3,743.5M736.0,753.3 739.9,753.9 743.4,755.8 747.2,756.6 749.9,758.1 752.8,758.9 755.7,759.7 758.5,760.8 761.2,762.2 764.0,763.2 766.9,764.1 769.7,765.1 772.6,766.2 775.4,767.7 778.1,769.3 781.0,771.1 783.9,772.8 786.6,774.9 789.4,776.9 792.2,779.1 793.6,784.7 795.0,788.9 799.2,789.8 803.4,790.3 807.2,790.8 810.9,789.8 814.7,790.3 818.2,790.4 821.7,789.8 825.2,789.9 828.7,790.3 832.2,790.3 835.7,789.7 839.3,789.7 842.7,788.9 846.5,787.9 850.1,786.5 854.0,786.1 859.6,784.7M865.2,748.2 868.1,749.5 870.8,751.0 873.6,753.0 876.2,755.2 879.3,756.6 881.8,758.9 884.9,760.4 887.7,762.2 890.6,765.0 893.3,767.9 895.8,770.4 897.5,773.5 896.1,779.1 893.3,776.3 891.6,773.4 889.3,770.8 887.7,767.9 884.6,766.1 881.7,764.1 878.9,762.0 876.4,759.4 873.8,757.4 870.6,756.0 868.0,753.8 867.1,750.8 865.2,748.2M873.6,773.5 876.4,770.7 879.5,771.7 882.1,773.5 886.3,776.3 884.9,781.9 881.9,783.0 879.3,784.7 876.6,786.5 873.6,787.5 868.0,788.9 862.4,790.3M803.4,739.8 809.0,738.4 812.6,738.6 816.1,739.8 814.7,742.6 811.4,742.3 808.1,742.9 804.8,742.6 803.4,739.8M847.5,729.9 849.8,731.3M821.1,743.4 822.8,744.6M855.4,746.0 861.0,746.8 859.6,749.6 855.4,748.2 855.4,746.0M881.5,750.4 883.2,752.1M891.3,754.7 892.7,756.1M794.1,777.1 796.1,778.3M254.1,428.1 257.0,425.2 261.5,422.2 265.3,421.4 268.9,420.0 272.6,419.3 276.3,419.3 280.0,418.4 283.7,418.5 287.4,420.7 288.1,425.2 285.2,429.6 282.2,434.1 279.3,438.5 274.8,442.2 271.7,443.8 268.9,445.9 266.0,445.0 263.0,444.4 260.2,442.6 257.0,441.5 254.1,437.0 253.3,432.6 254.1,428.1M268.9,397.0 269.6,403.0 270.4,408.9 271.2,411.9 272.6,414.8 276.3,417.0 280.7,416.3 282.2,411.9 280.7,407.4 279.3,403.0 282.2,400.0 286.7,397.0M206.7,402.2 209.9,403.7 212.6,405.9 214.7,408.2 217.0,410.4 220.0,414.8 221.5,419.3 217.0,422.2 214.6,425.0 212.6,428.1 211.5,431.1 210.4,434.1 211.1,440.0 213.0,443.2 215.6,445.9 218.0,448.7 220.0,451.9 221.0,455.0 223.0,457.8 225.0,460.9 227.4,463.7 230.8,466.3 233.3,469.6 236.6,471.4 239.3,474.1 242.1,475.7 245.2,477.0 249.6,480.0M223.0,411.9 225.9,407.4 230.4,405.9 233.5,404.8 236.3,403.0 239.3,400.0 242.8,397.7 246.7,396.3 250.3,395.7 254.1,395.6 257.7,396.5 261.5,397.0 265.2,396.7 268.9,397.0M180.0,408.9 183.0,408.8 185.9,407.9 188.9,407.4 192.1,409.2 194.8,411.9 196.4,414.7 197.8,417.8 199.3,422.2 194.8,425.2 191.1,426.6 187.4,428.1 185.9,431.1 188.9,432.5 191.9,434.1 195.5,435.7 199.3,437.0 201.8,439.8 203.7,443.0 206.4,446.2 209.6,448.9 212.0,452.5 214.1,456.3 216.2,460.1 218.5,463.7 220.6,466.8 223.0,469.6 226.0,472.5 228.9,475.6 231.2,477.7 233.3,480.0M180.0,443.0 182.9,444.2 185.8,445.4 188.9,445.9 191.6,449.1 194.8,451.9 195.7,454.8 197.0,457.7 197.8,460.7 198.8,464.1 198.2,467.7 199.3,471.1 201.1,473.7 202.9,476.3 205.2,478.5M180.0,380.7 183.0,381.1 185.9,381.8 188.9,382.2 192.2,380.4 194.8,377.8 198.7,375.9 202.2,373.3 206.0,372.0 209.6,370.4 214.1,367.4 217.0,363.0M209.6,376.3 212.6,376.6 215.6,377.2 218.5,377.8 221.3,379.6 224.4,380.7 224.4,386.7 225.9,391.1 228.9,395.6M274.8,368.9 277.8,369.2 280.7,370.1 283.7,370.4 287.2,370.7 290.6,371.3 294.1,371.1 294.1,374.8 292.6,379.3 289.4,381.2 286.7,383.7 283.8,386.1 280.7,388.1 277.8,391.1M294.1,371.1 297.9,371.7 301.5,373.3 305.9,373.4 310.4,374.1 313.4,375.1 316.3,376.3 317.7,379.3 319.3,382.2 322.2,386.7 325.3,386.3 328.1,385.2 331.3,384.1 334.1,382.2 336.9,381.0 340.0,380.7M294.1,360.0 298.5,363.0 297.0,365.9 294.1,368.9M448.9,609.6 447.4,605.2 448.5,602.3 448.9,599.3 451.9,594.8 456.3,592.6 459.4,591.8 462.2,590.4 464.4,588.0 465.9,585.2 471.1,584.4 474.8,588.1 475.6,591.1 478.5,588.9 481.5,585.9 484.4,583.7 487.4,580.7 490.4,578.5 494.8,580.0 497.8,575.6 498.5,571.1 503.7,568.1 506.7,568.1 507.3,571.1 508.1,574.1 509.5,576.9 510.4,580.0 510.7,583.8 511.9,587.4 511.9,591.9 512.6,596.3 513.1,599.3 514.1,602.2 513.3,608.1 510.4,611.1 509.2,614.0 508.9,617.0 508.1,611.1 505.2,606.7 502.2,603.7 500.9,606.7 499.3,609.6 497.8,614.1 499.7,616.8 500.7,620.0 499.9,622.9 499.3,625.9 496.3,628.9 493.3,625.9 488.9,624.4 486.1,622.7 483.0,621.5 480.5,619.5 478.5,617.0 478.0,614.0 477.0,611.1 477.0,605.2 476.0,602.0 474.1,599.3 471.1,597.8 468.1,600.7 463.7,602.2 459.3,602.2 456.3,600.7 451.9,602.2 451.4,605.3 450.4,608.1 448.9,609.6M445.9,612.6 450.4,613.3 451.9,615.6 448.9,617.0 445.9,615.6 445.9,612.6M431.1,623.7 435.6,623.0 439.3,624.4 435.6,625.9 431.1,625.2 431.1,623.7M416.3,634.8 420.7,633.3 422.2,635.6 417.8,637.0 416.3,634.8M465.2,572.6 466.0,569.7 466.7,566.7 467.8,563.8 468.6,560.7 469.6,557.8 471.6,554.6 474.1,551.9 477.0,548.9 476.8,551.9 475.8,554.8 475.6,557.8 473.8,560.6 472.6,563.7 471.1,566.7 469.3,569.9 466.7,572.6M474.1,566.7 477.0,564.4 483.0,564.4 484.4,568.1 480.0,571.1 475.6,570.4 474.1,566.7M453.3,566.7 454.5,570.5 456.3,574.1 458.3,576.5 460.7,578.5 465.2,577.0 464.5,573.4 464.4,569.6 463.4,565.9 462.2,562.2 459.3,557.8 456.3,554.8 454.4,557.6 453.3,560.7 453.3,566.7M447.4,540.0 446.5,542.9 446.4,545.9 445.9,548.9 446.4,552.3 446.8,555.8 447.4,559.3 451.9,557.8 456.3,556.3 459.3,553.3 461.2,550.9 463.7,548.9 465.2,544.4 463.7,540.0M483.0,540.0 483.8,542.9 484.3,545.9 484.4,548.9 485.7,552.0 487.5,554.7 488.9,557.8 491.1,560.8 493.3,563.7 497.8,566.7M515.6,646.7 518.5,645.2 519.3,649.6 517.0,654.1 515.6,652.6 515.6,646.7M496.3,657.0 499.3,658.5M400.0,566.7 403.0,562.2 405.1,559.9 407.4,557.8 408.9,554.8 410.0,551.7 411.9,548.9 414.8,544.4 416.3,547.8 416.3,551.5 417.8,554.8 415.7,557.1 413.3,559.3 410.6,561.1 407.4,562.2 404.8,564.1 402.3,565.9 400.0,568.1M164.6,170.0 166.1,172.9 166.9,176.1 170.7,180.8 171.5,185.4 169.2,190.0 167.6,194.6 163.0,197.6 160.7,199.9 158.4,202.3 155.4,206.9 159.2,209.9 160.0,212.2 155.4,214.5 150.8,213.0 146.9,212.4 143.1,211.5 140.0,211.5M140.0,213.0 144.6,216.1 149.2,219.2 152.3,222.2 155.4,225.3 153.8,228.4 149.2,229.9 146.1,231.4 143.1,234.5 140.0,236.1M160.0,212.2 163.0,216.1 163.8,219.2 164.6,222.2 163.0,224.5 158.4,226.8 155.4,228.4M161.5,216.1 164.4,214.4 167.6,213.8 172.3,214.5 175.3,217.6 179.9,220.7 183.9,221.0 187.6,222.2 190.7,223.8 192.2,228.4 191.5,233.0 195.3,235.3 198.3,236.2 201.4,236.1 204.6,235.7 207.6,234.5 210.7,233.7 213.7,233.0 216.8,233.8 219.9,234.5 223.8,235.0 227.6,236.1 230.5,237.9 233.7,239.1 236.8,240.6 239.8,242.2M195.3,170.0 198.2,172.0 201.4,173.1 203.5,176.3 206.1,179.2 206.5,182.4 207.6,185.4 208.7,188.7 210.7,191.5 213.9,193.2 216.8,195.3 221.4,197.6 223.7,194.6 226.0,190.0 229.1,185.4 226.0,180.8 222.9,176.1 224.5,172.3 228.3,171.4 232.2,171.5 233.7,170.0M233.7,171.5 238.3,174.6 241.5,175.9 244.6,177.4 247.5,179.2 250.8,180.3 253.7,182.3 254.4,186.9 254.5,190.8 253.7,194.6 252.9,198.4 247.5,199.2 244.5,199.1 241.4,199.2 239.8,202.3 236.0,202.2 232.2,203.0 227.6,200.7 223.7,202.3 221.4,206.9 222.6,209.9 223.7,213.0 222.8,216.8 222.9,220.7 219.7,221.4 216.8,223.0 213.0,227.6 212.2,230.7 213.7,233.0M279.8,170.0 279.9,173.9 279.0,177.7 279.7,181.5 280.6,185.4 281.0,189.2 281.3,193.0 280.2,197.0 278.2,200.7 277.4,203.7 277.5,206.9M277.5,206.9 278.9,209.8 279.8,213.0 282.9,217.6 285.1,220.7 287.5,223.8 288.2,228.4 292.1,233.0 296.7,236.1 300.1,237.6M279.0,206.9 283.3,205.9 287.5,204.6 290.7,204.3 293.6,203.0 296.9,202.0 300.1,200.7M266.0,228.4 269.8,227.9 273.6,227.6 277.5,227.9 281.3,228.4 284.8,228.0 288.2,228.4M266.0,228.4 270.6,231.4 275.2,234.5 273.6,237.6 270.4,237.9 267.5,239.1 266.7,243.7M207.6,233.0 209.1,232.2M153.1,223.8 155.4,225.3M327.8,170.0 325.7,173.7 324.6,177.9 327.0,182.6 330.4,182.8 333.9,183.1 337.2,184.2 340.4,184.4 343.5,185.1 346.7,185.7 351.4,185.0 352.6,181.5 353.0,177.9 355.6,175.8 357.7,173.1 360.0,170.0M290.0,204.6 293.3,203.9 296.1,202.1 299.4,201.5 302.7,201.0 305.8,200.1 308.9,199.1 312.1,198.5 315.3,198.1 318.3,196.8 321.3,194.7 324.6,193.6 327.0,188.9 326.6,185.7 327.0,182.6M351.4,185.7 350.3,188.8 349.8,192.0 347.1,194.9 345.1,198.3 343.5,201.5 346.7,204.6 349.7,206.4 353.0,207.8 356.1,207.8 359.3,208.4 362.4,208.6 367.1,205.4 370.3,205.3 373.4,204.6 378.1,207.8 381.3,207.7 384.4,208.6 387.6,208.0 390.7,207.8 393.8,207.0 397.0,206.3 400.2,206.2 403.3,205.0 406.5,203.8M351.4,188.9 356.1,187.3 359.2,186.6 362.4,186.5M406.5,203.8 409.6,199.9 412.8,195.2 415.7,191.8 419.1,188.9 421.9,185.5 425.4,182.6 428.6,180.8 431.7,178.7 435.4,177.0 439.5,176.3 443.6,174.9 447.4,173.1 451.3,172.0 455.3,171.6M406.5,203.8 411.2,206.2 415.3,207.3 419.1,209.4 421.1,212.0 423.8,214.1 425.7,217.9 426.9,221.9 428.1,226.1 430.1,229.8 431.3,233.1 433.2,236.1 435.3,239.5 438.0,242.4 442.7,245.6 445.8,250.3 445.0,255.0 445.8,258.1 445.8,261.3M365.6,207.8 368.7,210.9 365.6,214.1 362.4,214.9 359.3,215.6 354.5,217.2 353.0,221.9 349.8,226.7 345.1,229.8 346.7,233.0 350.0,234.1 353.0,236.1 357.7,239.3 359.3,244.0 357.7,248.7 353.0,251.9 351.4,253.4M290.0,229.8 292.9,232.6 296.3,234.5 300.1,236.5 304.2,237.7 307.3,238.3 310.5,238.7 313.6,239.3 317.6,239.5 321.5,240.0 324.5,241.6 327.8,242.4 330.9,247.1 334.1,248.7 337.2,250.3 340.3,251.2 343.5,251.9 347.5,252.3 351.4,253.4 354.5,258.1 356.4,261.2 357.7,264.4 358.9,267.5 359.3,270.7 362.4,273.9M368.7,210.9 371.7,212.7 375.0,214.1 378.1,215.6 381.5,216.9 384.4,218.8 389.2,221.9 390.4,225.3 392.3,228.2 394.9,230.4 397.0,233.0 400.2,237.7 398.6,242.4 395.5,247.1 393.9,251.9 390.7,255.0 387.6,257.4 384.4,259.7 381.5,262.4 378.1,264.4 375.2,267.0 371.9,269.2 368.5,270.4 365.6,272.3 360.8,275.5M390.7,207.8 391.7,210.9 392.3,214.1 391.9,217.3 390.7,220.4 392.3,223.5 393.9,226.7 397.1,228.1 400.2,229.8 403.1,231.8 406.5,233.0 409.6,237.7 412.8,242.4 409.8,244.4 406.5,245.6 403.2,245.8 400.2,247.1 398.6,251.9 401.8,256.6 406.5,259.7 409.6,264.4 408.5,267.8 406.5,270.7 404.5,273.7 403.3,277.0 401.6,280.1 400.2,283.3 397.0,288.1 393.9,292.8 393.4,296.5 392.3,300.0M378.1,277.0 381.3,278.6 384.4,280.2 387.6,280.7 390.7,281.8 393.8,280.7 397.0,280.2M412.8,242.4 416.5,243.1 420.2,244.4 423.8,245.6 427.5,247.6 431.7,248.7 435.5,250.0 439.5,250.3 444.3,251.9M419.1,255.0 423.8,258.1 426.8,259.4 430.1,259.7 434.8,258.1 437.8,256.2 441.1,255.0 445.8,258.1 446.8,261.2 447.4,264.4 444.1,265.6 441.1,267.6 438.0,268.6 434.8,268.4 431.7,269.2 426.9,270.7 422.2,270.7M296.3,277.0 299.5,278.4 302.6,280.2 305.6,281.5 308.9,281.8 311.8,279.7 315.2,278.6 318.4,278.2 321.5,277.0 326.2,280.2 328.7,283.2 330.9,286.5 332.4,289.5 333.5,292.6 334.1,295.9 335.6,300.0M329.4,281.8 333.4,281.3 337.2,280.2 341.2,278.6 345.1,277.0 349.0,275.9 353.0,275.5 356.9,276.2 360.8,277.0 365.6,278.6 368.8,278.3 371.9,277.0 375.0,276.7 378.1,277.0M390.7,280.2 392.2,283.4 393.9,286.5 395.1,290.3 395.5,294.4 397.0,300.0M379.7,250.3 384.4,249.5 387.6,251.9 384.4,253.4 380.5,252.6 379.7,250.3M419.1,253.4 423.8,251.9 428.5,255.0 426.9,260.5 421.4,259.7 419.9,256.7 419.1,253.4M371.9,239.3 373.4,240.8M392.3,215.6 393.1,216.4M427.7,441.3 433.6,440.7 436.5,441.6 439.5,441.9 442.4,442.7 445.4,443.1 450.7,443.7 450.2,447.8 450.7,453.7 452.5,456.5 453.7,459.6 454.9,463.2 454.4,466.2 453.1,469.1 452.0,472.2 450.2,475.0 445.4,477.3 441.9,480.9 439.5,485.6 439.5,490.3 440.7,495.1 441.9,499.8 444.3,504.5 446.6,506.9 449.0,505.7 451.3,503.3 456.1,502.1 459.6,503.3 463.1,505.7 465.5,506.9 469.1,508.0 473.8,509.2 477.3,510.4 479.7,506.9 482.0,508.0 483.2,511.6 480.9,513.9 477.3,512.8 476.1,510.4 473.8,511.6 476.1,516.3 478.5,521.0 476.1,522.2 472.6,521.0 469.1,518.7 465.5,516.3 463.1,511.6 460.8,509.2 458.4,511.6 457.2,516.3 454.9,517.5 452.5,513.9 450.2,510.4 447.8,506.9 445.4,508.0 441.9,509.2 438.3,510.4 434.8,509.2 433.6,506.9 432.4,504.5 430.1,502.1 427.7,499.8 425.4,497.4 421.8,496.2 419.4,492.7 418.4,489.1 417.1,485.6 416.2,482.1 415.3,478.5 415.9,472.6 419.4,473.8 423.0,471.4 423.0,466.7 423.3,463.1 424.2,459.6 424.1,456.1 424.8,452.5 425.5,449.6 425.9,446.6 427.7,441.3M427.7,499.8 429.0,503.4 430.7,506.9 429.5,509.8 426.5,511.6 430.1,512.8 433.6,511.6 436.0,509.2M424.2,515.1 427.2,514.9 430.1,513.9 433.6,514.6 437.2,515.1 440.7,518.7 441.3,522.2 441.3,525.8 439.5,530.5 436.0,532.8 433.6,530.5 431.3,525.8 427.7,521.0 424.2,517.5 424.2,515.1M443.7,516.3 444.8,513.9 447.6,514.2 449.0,516.3 447.6,518.7 444.8,518.4 443.7,516.3M445.4,492.7 447.8,492.1 448.4,495.1 446.8,497.4 445.4,495.1 445.4,492.7M420.0,509.8 421.8,511.0M447.8,526.9 449.6,526.4 450.2,530.5 448.4,533.4 447.6,530.5 447.8,526.9M454.9,529.9 456.7,529.3 457.2,531.1 455.5,531.9 454.9,529.9M460.8,518.7 463.1,519.9 466.7,524.6 465.5,526.9 462.6,523.4 460.8,518.7M466.7,526.9 471.4,528.1 474.4,530.5 472.6,534.0 469.1,536.0M480.9,528.1 483.7,527.1 486.8,526.9 489.7,527.8 492.7,528.1 497.4,530.5 498.7,533.2 499.8,536.0M415.9,531.7 419.4,531.1 422.4,533.4 420.6,535.2 416.5,534.6 415.9,531.7M464.3,506.9 466.5,509.4 469.1,511.6 471.4,516.3M239.1,240.0 242.7,240.4 246.1,241.8 250.9,242.4 251.1,246.0 252.0,249.4 248.5,254.2 246.9,257.2 245.0,260.1 240.2,262.4 236.7,266.0 235.2,269.4 234.3,273.1 232.0,274.3 228.4,273.7 224.9,270.7 222.0,269.7 219.0,269.5 213.1,268.9 209.5,271.9 208.3,276.6 205.4,281.3 208.3,284.9 211.9,287.2 215.4,289.6 219.0,292.0 221.3,295.5 224.9,294.3 227.2,292.0 230.8,289.6 235.5,287.2 240.2,288.4 246.1,288.4 249.7,292.0 252.0,296.7 255.6,299.1 260.3,300.2 262.7,297.9M250.9,242.4 253.8,243.5 256.8,244.7 259.9,245.4 262.7,247.1 265.5,248.7 268.6,249.4 272.1,251.8 274.5,255.4 275.7,260.1 273.3,262.4 269.8,263.6 265.0,264.8 260.3,266.0 255.6,267.2 250.9,268.3 250.3,273.1 252.0,277.8 255.6,281.3 257.9,283.7 261.5,287.2 262.7,289.6 263.3,292.6 263.9,295.5 262.7,299.1 263.9,303.8 265.0,308.5 262.7,313.2 257.9,315.6 256.8,317.9 261.5,319.1 265.0,321.5 266.8,325.0 265.5,327.9 265.0,330.9 262.7,334.5 261.7,337.4 260.3,340.0M261.5,287.2 265.0,282.5 269.8,280.2 274.5,279.0 279.2,279.0 281.6,274.3 286.3,273.1 289.4,273.9 292.2,275.4 296.0,276.4 300.0,276.6M267.4,240.0 268.0,245.9 268.6,249.4M180.0,299.1 184.7,295.5 190.6,295.5 191.8,299.1 193.0,303.8 197.7,306.1 202.4,303.8 204.8,306.1 203.6,310.9 198.9,313.2 195.4,313.4 191.8,313.2 187.1,312.0 182.4,314.4 181.2,317.9 183.5,321.5 188.3,322.7 193.0,323.9 195.4,327.4 193.0,332.1 192.8,335.1 191.8,338.0 190.6,340.0M207.2,294.3 210.7,293.1 214.3,292.0 219.0,294.3 220.2,299.1 220.7,303.8 217.8,307.3 213.1,307.9 209.5,307.3 207.2,306.1 206.6,301.4 206.7,297.9 207.2,294.3M265.0,332.1 269.8,330.9 274.5,329.8 279.2,329.8 283.9,327.4 288.7,328.0 292.2,329.8 294.6,334.5 293.4,340.0M232.0,340.0 236.7,339.2 241.4,338.0 246.1,338.6M250.9,277.2 251.8,278.0M233.7,274.3 235.5,274.8M577.0,211.1 580.8,209.0 584.4,206.7 587.2,204.7 590.4,203.7 593.3,202.2 596.3,200.2 599.3,198.3 602.2,196.3 605.8,195.1 609.6,194.8 613.1,194.8 616.6,194.7 620.0,194.1 624.5,194.1 628.9,193.3 631.8,192.6 634.9,192.6 637.8,191.9 640.8,192.8 643.7,194.1 646.8,193.2 649.6,191.9 650.7,188.7 652.6,185.9 655.1,183.2 657.0,180.0M577.0,211.1 577.0,215.6 580.7,216.4 584.4,216.3 588.1,215.9 591.9,215.6 596.3,214.1 599.3,211.9 603.0,211.1 606.7,210.4 610.4,210.0 614.1,209.6 617.0,208.9 620.0,208.1 622.8,206.9 625.9,206.7 631.9,205.9 637.8,206.7 642.2,206.7 640.7,209.6 637.8,212.6 637.8,217.0 640.7,221.5 645.2,223.7 649.6,221.5 652.2,219.6 654.1,217.0 658.5,214.1 663.0,211.1 661.9,208.2 661.5,205.2 663.0,201.5 665.9,203.7 670.4,205.9 676.3,206.7 682.2,206.7 684.2,204.2 686.7,202.2 691.1,199.3 695.6,197.8 700.0,197.0M688.1,202.2 691.1,206.7 694.1,208.1 697.0,205.2M593.3,224.4 597.8,224.4 600.3,227.1 602.2,230.4 605.2,234.8 607.2,232.4 609.6,230.4 614.1,227.4 617.1,227.0 620.0,225.9 624.4,226.7 628.9,223.0 630.4,218.5 631.9,214.1 628.9,211.9 623.0,212.6 617.0,212.6 614.2,213.8 611.1,214.1 606.7,215.6 602.2,217.0 599.3,218.5 596.3,221.5 593.3,224.4M556.3,227.4 559.0,224.8 562.2,223.0 566.0,221.7 569.6,220.0 573.3,218.9 577.0,218.5 581.5,220.0 584.4,223.0 587.4,224.4 591.9,225.9 593.3,230.4 592.3,233.6 590.4,236.3 588.8,239.2 587.4,242.2 586.6,245.9 585.9,249.6 583.7,251.8 581.5,254.1 577.0,257.0 574.1,258.5 571.1,257.0 568.1,254.1 567.6,251.1 566.7,248.1 565.5,245.3 565.2,242.2 564.8,239.2 563.7,236.3 561.7,233.9 559.3,231.9 556.3,227.4M563.7,230.4 568.1,230.4 569.6,234.8 571.1,239.3 566.7,242.2 563.7,239.3 563.2,234.8 563.7,230.4M553.3,206.7 555.6,207.4 554.8,210.4 552.6,214.8 551.9,211.9 553.3,206.7M540.0,202.2 542.9,201.1 545.9,200.7 548.9,199.3 551.9,197.8 553.3,194.8 554.8,191.9 555.3,188.8 556.3,185.9 555.2,183.1 554.8,180.0M540.0,200.7 543.0,199.3 544.4,202.2 541.5,204.4M558.7,218.8 559.9,219.7M543.7,235.6 545.9,234.5 548.1,236.0 545.9,237.5 543.7,235.6M550.1,230.1 551.1,233.6M610.5,183.3 612.0,184.4M649.6,194.8 652.6,195.6 654.1,198.5 651.1,200.7 650.3,197.8 649.6,194.8M575.6,263.0 578.5,264.4 577.8,268.9M625.9,208.1 628.9,209.6 634.8,209.6 637.7,208.5 640.7,208.1" fill="none" stroke="#383838" stroke-width="1.3" stroke-linejoin="round"/><path d="M331.7,270.7 334.9,264.4 339.6,262.9 344.3,266.8 345.1,272.3 341.9,276.2 337.2,277.0 333.3,275.5ZM360.0,272.3 364.8,271.5 369.5,278.6 371.1,286.5 368.7,292.0 364.0,294.4 361.6,289.6 362.4,283.3 360.0,278.6ZM387.6,228.2 392.3,223.5 398.6,225.9 404.9,228.2 410.4,231.4 409.6,236.1 403.3,235.3 397.0,233.0 390.7,232.2ZM302.6,288.8 307.3,286.5 313.6,285.7 316.0,288.8 312.0,292.0 305.7,292.8ZM362.7,295.9 367.1,295.1 369.5,298.3 365.6,300.0 362.4,299.1Z" fill="#444" fill-opacity="0.72" stroke="#333" stroke-width="0.8" stroke-dasharray="2,1.5"/><path d="M508.4,169.2 511.7,176.9 510.6,182.5 513.9,191.3 512.8,200.1 510.6,209.4 517.2,208.1 526.1,206.3 534.9,204.1 543.7,202.3M406.7,343.0 400.0,349.6 393.4,354.0 386.8,360.6 380.2,367.2 373.5,371.7 366.9,375.0 360.3,378.3 353.7,379.4 347.1,380.5 340.4,382.7 336.0,384.9 329.4,387.1 325.0,389.3M425.4,183.4 431.7,179.4 439.5,176.3 447.4,173.1 453.7,171.6" fill="none" stroke="#2e2e2e" stroke-width="2" stroke-linejoin="round"/><path d="M440.9,294.4 436.5,301.0 429.8,306.5 425.4,313.2 421.0,319.8 416.6,326.4 414.4,334.1 412.2,339.0 407.8,343.4 401.1,350.0 394.5,354.4 387.9,360.6 381.3,367.2M447.4,264.4 450.6,270.7 447.4,280.2 444.3,289.6 441.1,300.0" fill="none" stroke="#2a2a2a" stroke-width="3" stroke-linejoin="round"/></g><!--/coast-->
</svg>
<svg id="ov" width="1080" height="847" viewBox="0 0 1080 847" style="position:absolute;left:0;top:0">
<g fill="none" stroke="#cfcfcf" stroke-width="1">
<path d="M783.5,69.4 L786,74.3 L786.8,78.7 L783.5,83.1"/>
<path d="M786.8,74.3 L793.4,67.7 L800,65.5 L808.8,62.1 L817.7,56.6"/>
<path d="M804.4,74.3 L808.8,72.1"/>
</g>
<line x1="797" y1="70.7" x2="817" y2="70.7" stroke="#dcdcdc" stroke-width="1.2"/>
<g stroke-width="1.6">
<line x1="795.7" y1="95.6" x2="817.6" y2="95.6" stroke="#8482be"/>
<circle cx="795.7" cy="95.6" r="2.2" fill="#8482be" stroke="none"/><circle cx="817.6" cy="95.6" r="2.2" fill="#8482be" stroke="none"/>
<line x1="795.7" y1="119.1" x2="817.6" y2="119.1" stroke="#a6c83c"/>
<circle cx="795.7" cy="119.1" r="2.2" fill="#a6c03c" stroke="none"/><circle cx="817.6" cy="119.1" r="2.2" fill="#a6c03c" stroke="none"/>
<line x1="795.7" y1="141.9" x2="817.6" y2="141.9" stroke="#aaaaaa"/>
<circle cx="795.7" cy="141.9" r="2.2" fill="#aaaaaa" stroke="none"/><circle cx="817.6" cy="141.9" r="2.2" fill="#aaaaaa" stroke="none"/>
</g>
<defs><linearGradient id="cb" x1="0" y1="0" x2="0" y2="1">
<stop offset="0" stop-color="#e48cb4"/><stop offset="0.12" stop-color="#ec6a8a"/><stop offset="0.25" stop-color="#f03a48"/><stop offset="0.38" stop-color="#f47c4a"/><stop offset="0.5" stop-color="#f2d060"/><stop offset="0.62" stop-color="#d8f070"/><stop offset="0.72" stop-color="#a8d898"/><stop offset="0.8" stop-color="#a8c8dc"/><stop offset="0.9" stop-color="#dde6ec"/><stop offset="1" stop-color="#ffffff"/>
</linearGradient></defs>
<rect x="73.5" y="718" width="12.5" height="46" fill="url(#cb)" stroke="#ddd" stroke-width="0.8"/>
</svg>
<div class="t" style="left:96.5px;top:710px;font-size:12.5px;color:#222">100</div>
<div class="t" style="left:97.5px;top:756px;font-size:12.5px;color:#222">0</div>
<div class="t" id="title">Strike Probabilites* of [MANGKHUT] Based on ECMWF Ensemble&nbsp; @NASDAQ</div>
<div class="t" id="init">Init Time: 2018/09/09 00Z</div>
<div class="t" id="note">*probability that the center of the tropical cyclone will pass within 1 lat/lon (approx. 100~110km) of a location</div>
<div id="press">DET 911 hPa
MEAN 932 hPa
CTRL 931 hPa
EN01 932 hPa
EN02 922 hPa
EN03 922 hPa
EN04 916 hPa
EN05 924 hPa
EN06 923 hPa
EN07 918 hPa
EN08 921 hPa
EN09 933 hPa
EN10 922 hPa
EN11 930 hPa
EN12 930 hPa
EN13 920 hPa
EN14 929 hPa
EN15 920 hPa
EN16 934 hPa
EN17 925 hPa
EN18 914 hPa
EN19 927 hPa
EN20 932 hPa
EN21 904 hPa
EN22 918 hPa
EN23 922 hPa
EN24 919 hPa
EN25 912 hPa
EP01 936 hPa
EP02 920 hPa
EP03 926 hPa
EP04 927 hPa
EP05 928 hPa
EP06 929 hPa
EP07 924 hPa
EP08 925 hPa
EP09 931 hPa
EP10 927 hPa
EP11 929 hPa
EP12 920 hPa
EP13 911 hPa
EP14 927 hPa
EP15 925 hPa
EP16 923 hPa
EP17 920 hPa
EP18 923 hPa
EP19 922 hPa
EP20 928 hPa
EP21 920 hPa
EP22 920 hPa
EP23 933 hPa
EP24 940 hPa
EP25 926 hPa</div>
<div class="lat" style="left:9px;top:124px">40°N</div>
<div class="lat" style="left:9px;top:269px">30°N</div>
<div class="lat" style="left:9px;top:414px">20°N</div>
<div class="lat" style="left:9px;top:559px">10°N</div>
<div class="lat" style="left:23px;top:704px">0°</div>
<div class="lon" style="left:118px">100°E</div>
<div class="lon" style="left:263px">110°E</div>
<div class="lon" style="left:408px">120°E</div>
<div class="lon" style="left:553px">130°E</div>
<div class="lon" style="left:698px">140°E</div>
<div class="lon" style="left:844px">150°E</div>
<div class="leg" style="top:63.5px;transform:scaleX(1.065)">Ensemble Cluster</div>
<div class="leg" style="top:86.7px;transform:scaleX(1.125)">Deterministic</div>
<div class="leg" style="top:110.5px;transform:scaleX(1.08)">Ensemble Mean</div>
<div class="leg" style="top:133.6px;transform:scaleX(1.09)">Ensemble Control</div>
<div class="box" style="left:56px;width:77px;background:#f59c60">阳江&nbsp; 50%</div>
<div class="box" style="left:143px;width:93px;background:#f6a463">上川岛&nbsp; 46%</div>
<div class="box" style="left:245px;width:79px;background:#f7b068">电白&nbsp; 44%</div>
<div class="box" style="left:334px;width:77px;background:#f8c862">香港&nbsp; 36%</div>
<div class="box" style="left:421px;width:77px;background:#f8c862">湛江&nbsp; 36%</div>
<div class="box" style="left:508px;width:77px;background:#f8ca64">深圳&nbsp; 36%</div>
<div class="box" style="left:595px;width:79px;background:#f8ce68">北海&nbsp; 36%</div>
<div class="box" style="left:682px;width:115px;background:#f8d462;color:#111">珠海/澳门&nbsp; 34%</div>
<div class="box" style="left:806px;width:108px;background:#f7e25c;color:#111">大鹏半岛&nbsp; 30%</div>
<svg width="1080" height="847" viewBox="0 0 1080 847" style="position:absolute;left:0;top:0">
<path d="M809,796 C809,789 815,786 819,786 C825,786 829,790 829,795 C829,801 823,804 818,804 L813,808 L814,803 C811,801 809,799 809,796Z" fill="#fff" stroke="#9a9a9a" stroke-width="0.8"/>
<path d="M824.5,803 C824.5,796 830,793 836,793 C843,793 847.5,797 847.5,803 C847.5,809 842,813 836,813 L841,815.5 L833,812.5 C828,811 824.5,808 824.5,803Z" fill="#fff" stroke="#9a9a9a" stroke-width="0.8"/>
<circle cx="832" cy="798.5" r="0.9" fill="#999"/><circle cx="840" cy="798.5" r="0.9" fill="#999"/>
<circle cx="815" cy="790" r="0.9" fill="#aaa"/><circle cx="830" cy="789" r="0.9" fill="#aaa"/>
</svg>
<div class="t" style="left:859px;top:783px;font-size:26px;font-family:'Noto Sans CJK SC','WenQuanYi Zen Hei',sans-serif;color:#fff;-webkit-text-stroke:0.55px #5a5a5a;text-shadow:1px 1px 1.5px rgba(0,0,0,0.22);letter-spacing:0.2px;">中国气象爱好者</div>
</body></html>
